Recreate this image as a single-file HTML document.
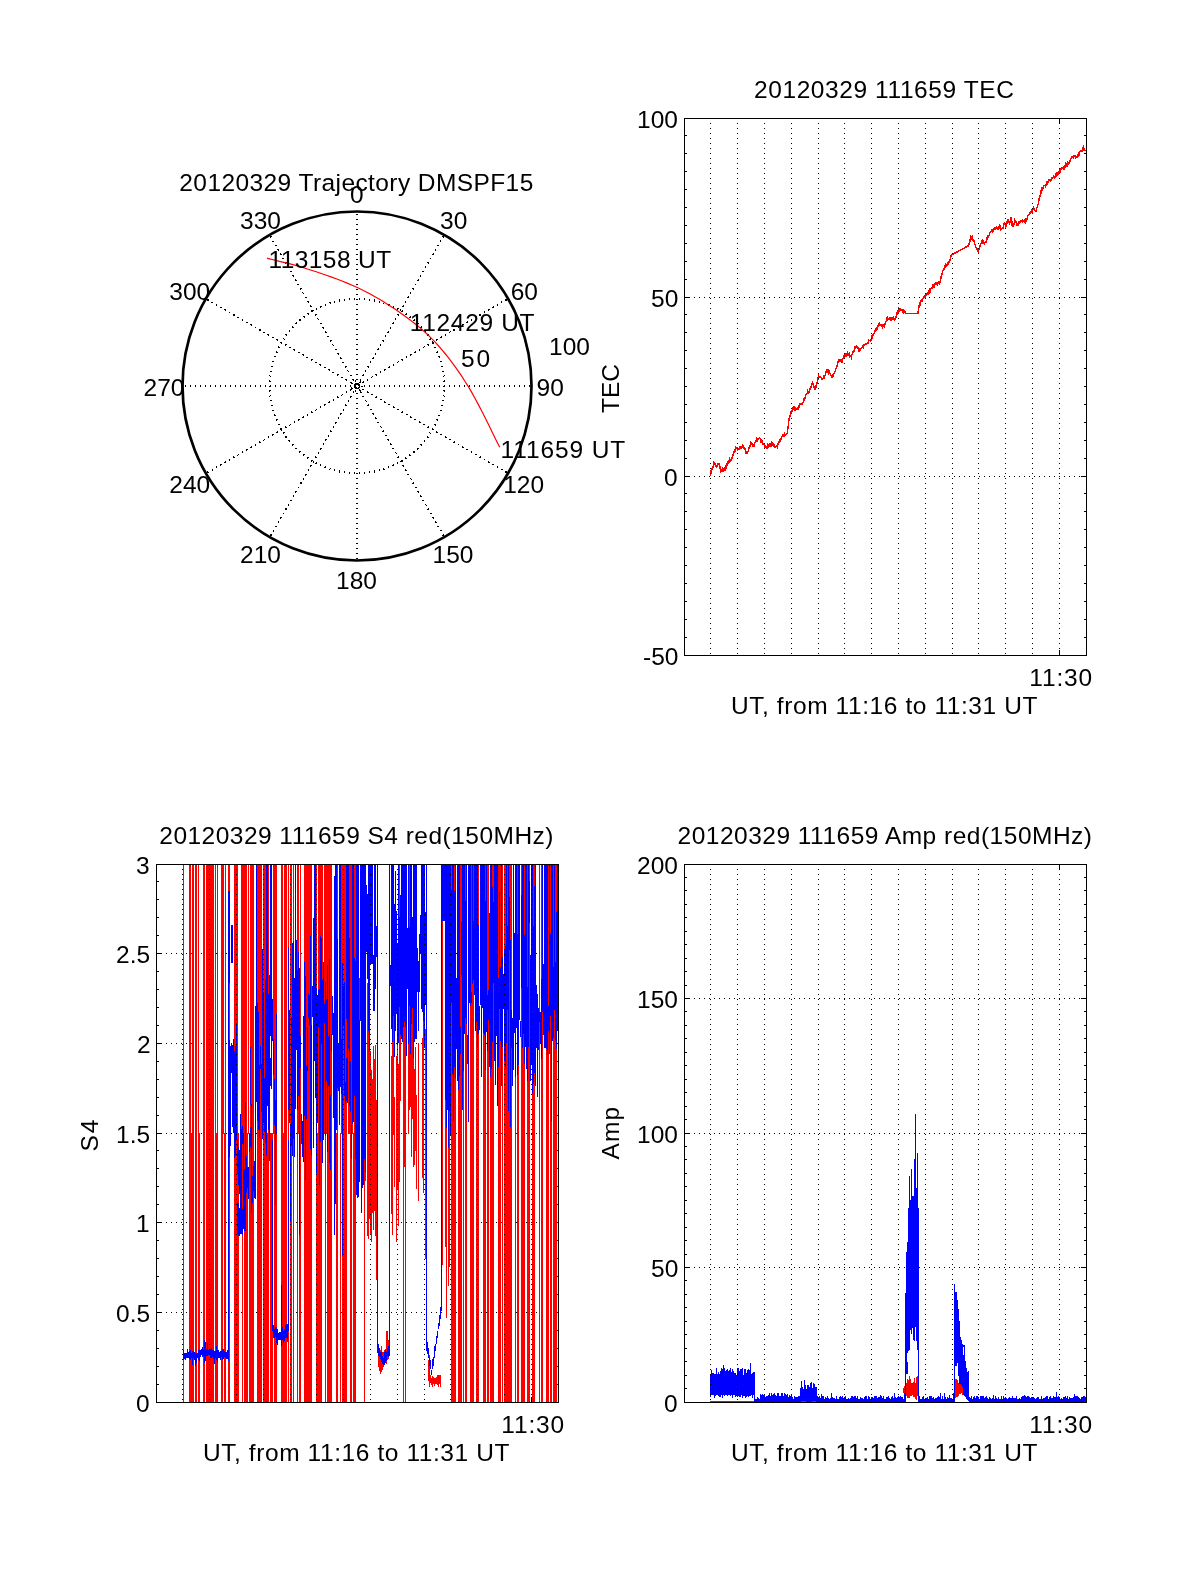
<!DOCTYPE html>
<html><head><meta charset="utf-8"><style>html,body{margin:0;padding:0;background:#fff;overflow:hidden}svg{display:block;will-change:transform}</style></head><body>
<svg width="1200" height="1575" viewBox="0 0 1200 1575" shape-rendering="crispEdges" font-family="Liberation Sans, sans-serif">
<rect width="1200" height="1575" fill="#fff"/>
<g shape-rendering="auto">
<circle cx="357.0" cy="386.0" r="174.5" fill="none" stroke="#000" stroke-width="2.7"/>
</g>
<path fill="#000" d="M489 462h1v1h-1zM358 387h1v1h-1zM325 439h1v1h-1zM370 361h1v1h-1zM208 299h1v1h-1zM379 302h1v1h-1zM325 331h1v1h-1zM270 395h1v1h-1zM375 417h1v1h-1zM393 322h1v1h-1zM378 422h1v1h-1zM330 302h1v1h-1zM356 403h1v1h-1zM305 474h1v1h-1zM292 275h1v1h-1zM295 280h1v1h-1zM394 407h1v1h-1zM339 471h1v1h-1zM440 410h1v1h-1zM229 312h1v1h-1zM283 432h1v1h-1zM286 437h1v1h-1zM238 317h1v1h-1zM437 526h1v1h-1zM369 471h1v1h-1zM430 338h1v1h-1zM444 385h1v1h-1zM476 454h1v1h-1zM345 379h1v1h-1zM346 380h1v1h-1zM524 386h1v1h-1zM356 393h1v1h-1zM402 360h1v1h-1zM368 404h1v1h-1zM474 385h1v1h-1zM371 409h1v1h-1zM356 249h1v1h-1zM408 296h1v1h-1zM320 448h1v1h-1zM338 353h1v1h-1zM384 469h1v1h-1zM504 385h1v1h-1zM388 439h1v1h-1zM445 335h1v1h-1zM286 427h1v1h-1zM259 330h1v1h-1zM305 297h1v1h-1zM505 471h1v1h-1zM444 375h1v1h-1zM276 419h1v1h-1zM388 331h1v1h-1zM233 457h1v1h-1zM279 424h1v1h-1zM300 483h1v1h-1zM375 397h1v1h-1zM359 389h1v1h-1zM225 309h1v1h-1zM251 447h1v1h-1zM272 241h1v1h-1zM410 354h1v1h-1zM356 383h1v1h-1zM329 402h1v1h-1zM356 239h1v1h-1zM333 372h1v1h-1zM434 424h1v1h-1zM273 241h1v1h-1zM323 327h1v1h-1zM375 374h1v1h-1zM506 299h1v1h-1zM216 466h1v1h-1zM449 439h1v1h-1zM442 400h1v1h-1zM380 345h1v1h-1zM290 271h1v1h-1zM294 421h1v1h-1zM335 422h1v1h-1zM293 276h1v1h-1zM245 385h1v1h-1zM471 319h1v1h-1zM374 386h1v1h-1zM296 323h1v1h-1zM259 441h1v1h-1zM325 386h1v1h-1zM403 305h1v1h-1zM275 385h1v1h-1zM320 307h1v1h-1zM493 464h1v1h-1zM404 386h1v1h-1zM315 457h1v1h-1zM288 440h1v1h-1zM362 389h1v1h-1zM356 229h1v1h-1zM428 334h1v1h-1zM402 461h1v1h-1zM437 339h1v1h-1zM355 386h1v1h-1zM489 386h1v1h-1zM305 385h1v1h-1zM439 385h1v1h-1zM289 440h1v1h-1zM316 314h1v1h-1zM479 457h1v1h-1zM338 418h1v1h-1zM383 340h1v1h-1zM329 369h1v1h-1zM295 492h1v1h-1zM303 316h1v1h-1zM283 258h1v1h-1zM445 436h1v1h-1zM284 339h1v1h-1zM304 317h1v1h-1zM336 349h1v1h-1zM271 405h1v1h-1zM357 408h1v1h-1zM409 455h1v1h-1zM377 422h1v1h-1zM356 448h1v1h-1zM356 219h1v1h-1zM268 335h1v1h-1zM410 455h1v1h-1zM242 319h1v1h-1zM375 354h1v1h-1zM330 468h1v1h-1zM350 382h1v1h-1zM424 331h1v1h-1zM442 236h1v1h-1zM351 383h1v1h-1zM311 310h1v1h-1zM393 465h1v1h-1zM285 437h1v1h-1zM466 449h1v1h-1zM379 301h1v1h-1zM398 314h1v1h-1zM283 513h1v1h-1zM310 466h1v1h-1zM357 398h1v1h-1zM417 449h1v1h-1zM205 386h1v1h-1zM357 254h1v1h-1zM356 438h1v1h-1zM270 371h1v1h-1zM296 280h1v1h-1zM356 294h1v1h-1zM333 427h1v1h-1zM419 350h1v1h-1zM290 385h1v1h-1zM260 442h1v1h-1zM264 332h1v1h-1zM369 385h1v1h-1zM207 472h1v1h-1zM441 410h1v1h-1zM387 439h1v1h-1zM390 444h1v1h-1zM384 370h1v1h-1zM440 530h1v1h-1zM320 385h1v1h-1zM361 386h1v1h-1zM462 325h1v1h-1zM346 379h1v1h-1zM413 289h1v1h-1zM357 388h1v1h-1zM303 417h1v1h-1zM524 385h1v1h-1zM407 474h1v1h-1zM480 315h1v1h-1zM350 385h1v1h-1zM357 244h1v1h-1zM356 428h1v1h-1zM462 446h1v1h-1zM454 442h1v1h-1zM269 396h1v1h-1zM356 284h1v1h-1zM427 344h1v1h-1zM268 436h1v1h-1zM321 448h1v1h-1zM346 392h1v1h-1zM445 334h1v1h-1zM348 401h1v1h-1zM233 456h1v1h-1zM300 482h1v1h-1zM433 517h1v1h-1zM345 404h1v1h-1zM311 411h1v1h-1zM301 483h1v1h-1zM488 309h1v1h-1zM190 386h1v1h-1zM357 234h1v1h-1zM411 354h1v1h-1zM356 418h1v1h-1zM329 401h1v1h-1zM400 461h1v1h-1zM269 386h1v1h-1zM344 300h1v1h-1zM356 274h1v1h-1zM427 334h1v1h-1zM394 386h1v1h-1zM220 386h1v1h-1zM367 405h1v1h-1zM273 361h1v1h-1zM380 344h1v1h-1zM425 266h1v1h-1zM450 439h1v1h-1zM443 400h1v1h-1zM374 300h1v1h-1zM319 364h1v1h-1zM372 376h1v1h-1zM418 492h1v1h-1zM424 386h1v1h-1zM250 386h1v1h-1zM272 410h1v1h-1zM335 349h1v1h-1zM334 470h1v1h-1zM454 386h1v1h-1zM320 306h1v1h-1zM357 453h1v1h-1zM357 224h1v1h-1zM356 408h1v1h-1zM356 493h1v1h-1zM316 457h1v1h-1zM363 389h1v1h-1zM356 264h1v1h-1zM489 385h1v1h-1zM443 534h1v1h-1zM233 315h1v1h-1zM471 452h1v1h-1zM443 390h1v1h-1zM295 491h1v1h-1zM289 331h1v1h-1zM286 262h1v1h-1zM304 316h1v1h-1zM437 351h1v1h-1zM392 465h1v1h-1zM307 357h1v1h-1zM357 443h1v1h-1zM357 299h1v1h-1zM356 483h1v1h-1zM356 254h1v1h-1zM381 427h1v1h-1zM375 353h1v1h-1zM420 275h1v1h-1zM431 513h1v1h-1zM356 339h1v1h-1zM348 371h1v1h-1zM276 352h1v1h-1zM398 457h1v1h-1zM351 382h1v1h-1zM425 331h1v1h-1zM436 340h1v1h-1zM443 236h1v1h-1zM220 307h1v1h-1zM285 436h1v1h-1zM277 432h1v1h-1zM355 388h1v1h-1zM315 315h1v1h-1zM467 449h1v1h-1zM310 465h1v1h-1zM417 448h1v1h-1zM389 386h1v1h-1zM357 433h1v1h-1zM220 464h1v1h-1zM479 315h1v1h-1zM397 362h1v1h-1zM357 289h1v1h-1zM356 473h1v1h-1zM414 451h1v1h-1zM320 407h1v1h-1zM378 348h1v1h-1zM497 305h1v1h-1zM356 329h1v1h-1zM469 386h1v1h-1zM419 385h1v1h-1zM340 357h1v1h-1zM279 347h1v1h-1zM390 443h1v1h-1zM379 470h1v1h-1zM499 386h1v1h-1zM285 426h1v1h-1zM391 444h1v1h-1zM329 469h1v1h-1zM449 385h1v1h-1zM441 530h1v1h-1zM462 324h1v1h-1zM307 301h1v1h-1zM281 428h1v1h-1zM357 423h1v1h-1zM358 388h1v1h-1zM295 448h1v1h-1zM370 362h1v1h-1zM216 304h1v1h-1zM208 300h1v1h-1zM421 444h1v1h-1zM408 474h1v1h-1zM357 279h1v1h-1zM356 463h1v1h-1zM324 367h1v1h-1zM325 332h1v1h-1zM505 299h1v1h-1zM356 319h1v1h-1zM329 302h1v1h-1zM346 391h1v1h-1zM438 245h1v1h-1zM330 303h1v1h-1zM440 434h1v1h-1zM305 475h1v1h-1zM278 521h1v1h-1zM350 397h1v1h-1zM383 430h1v1h-1zM428 437h1v1h-1zM389 366h1v1h-1zM301 482h1v1h-1zM240 386h1v1h-1zM190 385h1v1h-1zM489 309h1v1h-1zM325 466h1v1h-1zM357 498h1v1h-1zM357 269h1v1h-1zM356 453h1v1h-1zM369 472h1v1h-1zM344 299h1v1h-1zM430 339h1v1h-1zM484 459h1v1h-1zM401 461h1v1h-1zM270 386h1v1h-1zM317 318h1v1h-1zM356 538h1v1h-1zM356 309h1v1h-1zM274 356h1v1h-1zM220 385h1v1h-1zM354 385h1v1h-1zM397 463h1v1h-1zM318 319h1v1h-1zM368 405h1v1h-1zM374 299h1v1h-1zM300 386h1v1h-1zM320 364h1v1h-1zM250 385h1v1h-1zM438 356h1v1h-1zM384 385h1v1h-1zM365 371h1v1h-1zM338 354h1v1h-1zM285 262h1v1h-1zM283 338h1v1h-1zM428 427h1v1h-1zM441 366h1v1h-1zM414 385h1v1h-1zM321 306h1v1h-1zM357 488h1v1h-1zM269 375h1v1h-1zM276 420h1v1h-1zM388 332h1v1h-1zM302 292h1v1h-1zM433 254h1v1h-1zM270 376h1v1h-1zM357 344h1v1h-1zM356 528h1v1h-1zM356 299h1v1h-1zM273 530h1v1h-1zM233 314h1v1h-1zM229 460h1v1h-1zM410 355h1v1h-1zM356 384h1v1h-1zM293 444h1v1h-1zM397 309h1v1h-1zM289 330h1v1h-1zM341 377h1v1h-1zM360 390h1v1h-1zM296 491h1v1h-1zM506 300h1v1h-1zM453 330h1v1h-1zM371 377h1v1h-1zM388 466h1v1h-1zM294 422h1v1h-1zM354 473h1v1h-1zM331 340h1v1h-1zM357 478h1v1h-1zM449 332h1v1h-1zM357 334h1v1h-1zM356 518h1v1h-1zM259 442h1v1h-1zM298 284h1v1h-1zM356 374h1v1h-1zM414 352h1v1h-1zM337 397h1v1h-1zM255 444h1v1h-1zM360 380h1v1h-1zM442 535h1v1h-1zM355 387h1v1h-1zM300 451h1v1h-1zM221 307h1v1h-1zM400 309h1v1h-1zM439 386h1v1h-1zM289 441h1v1h-1zM433 342h1v1h-1zM311 465h1v1h-1zM337 374h1v1h-1zM383 341h1v1h-1zM356 387h1v1h-1zM329 370h1v1h-1zM357 468h1v1h-1zM479 314h1v1h-1zM221 464h1v1h-1zM436 352h1v1h-1zM320 406h1v1h-1zM272 366h1v1h-1zM445 437h1v1h-1zM519 386h1v1h-1zM357 324h1v1h-1zM356 508h1v1h-1zM469 385h1v1h-1zM398 361h1v1h-1zM356 364h1v1h-1zM300 320h1v1h-1zM291 500h1v1h-1zM392 323h1v1h-1zM427 509h1v1h-1zM379 469h1v1h-1zM499 385h1v1h-1zM363 381h1v1h-1zM308 301h1v1h-1zM463 324h1v1h-1zM414 319h1v1h-1zM296 448h1v1h-1zM311 311h1v1h-1zM307 457h1v1h-1zM275 245h1v1h-1zM357 543h1v1h-1zM357 314h1v1h-1zM398 315h1v1h-1zM356 498h1v1h-1zM402 465h1v1h-1zM355 390h1v1h-1zM429 339h1v1h-1zM307 313h1v1h-1zM325 367h1v1h-1zM356 354h1v1h-1zM308 314h1v1h-1zM350 396h1v1h-1zM441 434h1v1h-1zM420 496h1v1h-1zM306 474h1v1h-1zM290 386h1v1h-1zM442 371h1v1h-1zM240 385h1v1h-1zM369 386h1v1h-1zM274 414h1v1h-1zM401 460h1v1h-1zM320 386h1v1h-1zM357 533h1v1h-1zM270 385h1v1h-1zM286 509h1v1h-1zM387 332h1v1h-1zM354 384h1v1h-1zM397 462h1v1h-1zM356 344h1v1h-1zM402 311h1v1h-1zM275 356h1v1h-1zM292 445h1v1h-1zM303 454h1v1h-1zM350 386h1v1h-1zM484 386h1v1h-1zM462 447h1v1h-1zM300 385h1v1h-1zM434 385h1v1h-1zM312 359h1v1h-1zM288 267h1v1h-1zM246 450h1v1h-1zM439 356h1v1h-1zM365 370h1v1h-1zM410 292h1v1h-1zM268 437h1v1h-1zM428 426h1v1h-1zM514 386h1v1h-1zM423 347h1v1h-1zM464 385h1v1h-1zM298 352h1v1h-1zM433 253h1v1h-1zM357 523h1v1h-1zM318 452h1v1h-1zM388 367h1v1h-1zM433 518h1v1h-1zM345 405h1v1h-1zM306 297h1v1h-1zM311 412h1v1h-1zM357 379h1v1h-1zM229 459h1v1h-1zM488 310h1v1h-1zM324 467h1v1h-1zM397 308h1v1h-1zM307 414h1v1h-1zM276 432h1v1h-1zM342 377h1v1h-1zM427 335h1v1h-1zM211 302h1v1h-1zM354 387h1v1h-1zM272 434h1v1h-1zM453 329h1v1h-1zM458 444h1v1h-1zM425 267h1v1h-1zM354 472h1v1h-1zM374 301h1v1h-1zM357 513h1v1h-1zM357 369h1v1h-1zM356 553h1v1h-1zM405 302h1v1h-1zM337 396h1v1h-1zM360 379h1v1h-1zM285 385h1v1h-1zM278 346h1v1h-1zM415 351h1v1h-1zM364 385h1v1h-1zM443 535h1v1h-1zM320 464h1v1h-1zM280 428h1v1h-1zM312 460h1v1h-1zM315 385h1v1h-1zM428 262h1v1h-1zM313 461h1v1h-1zM380 371h1v1h-1zM340 414h1v1h-1zM360 392h1v1h-1zM207 299h1v1h-1zM352 388h1v1h-1zM519 385h1v1h-1zM410 478h1v1h-1zM444 391h1v1h-1zM437 352h1v1h-1zM345 385h1v1h-1zM446 437h1v1h-1zM357 359h1v1h-1zM411 479h1v1h-1zM356 543h1v1h-1zM315 362h1v1h-1zM476 316h1v1h-1zM327 336h1v1h-1zM300 319h1v1h-1zM420 276h1v1h-1zM397 409h1v1h-1zM359 382h1v1h-1zM443 381h1v1h-1zM427 436h1v1h-1zM443 237h1v1h-1zM360 382h1v1h-1zM308 457h1v1h-1zM328 435h1v1h-1zM276 245h1v1h-1zM185 386h1v1h-1zM403 465h1v1h-1zM308 313h1v1h-1zM364 473h1v1h-1zM339 300h1v1h-1zM220 465h1v1h-1zM433 429h1v1h-1zM351 396h1v1h-1zM215 386h1v1h-1zM370 409h1v1h-1zM414 452h1v1h-1zM420 495h1v1h-1zM378 349h1v1h-1zM311 359h1v1h-1zM423 500h1v1h-1zM303 355h1v1h-1zM423 271h1v1h-1zM369 300h1v1h-1zM419 386h1v1h-1zM337 353h1v1h-1zM443 371h1v1h-1zM340 358h1v1h-1zM419 422h1v1h-1zM263 440h1v1h-1zM362 382h1v1h-1zM393 406h1v1h-1zM354 298h1v1h-1zM285 427h1v1h-1zM449 386h1v1h-1zM286 508h1v1h-1zM440 337h1v1h-1zM278 424h1v1h-1zM281 429h1v1h-1zM402 310h1v1h-1zM359 385h1v1h-1zM292 444h1v1h-1zM484 385h1v1h-1zM216 305h1v1h-1zM421 445h1v1h-1zM304 454h1v1h-1zM315 463h1v1h-1zM463 447h1v1h-1zM328 402h1v1h-1zM246 449h1v1h-1zM332 372h1v1h-1zM505 300h1v1h-1zM367 366h1v1h-1zM514 385h1v1h-1zM413 482h1v1h-1zM324 404h1v1h-1zM416 487h1v1h-1zM278 522h1v1h-1zM323 444h1v1h-1zM330 340h1v1h-1zM414 419h1v1h-1zM333 345h1v1h-1zM380 426h1v1h-1zM299 352h1v1h-1zM383 431h1v1h-1zM212 469h1v1h-1zM357 558h1v1h-1zM297 284h1v1h-1zM389 367h1v1h-1zM300 289h1v1h-1zM346 405h1v1h-1zM347 370h1v1h-1zM350 375h1v1h-1zM325 467h1v1h-1zM409 317h1v1h-1zM292 326h1v1h-1zM436 419h1v1h-1zM354 386h1v1h-1zM212 302h1v1h-1zM437 420h1v1h-1zM432 341h1v1h-1zM281 517h1v1h-1zM382 340h1v1h-1zM328 369h1v1h-1zM359 473h1v1h-1zM320 365h1v1h-1zM384 386h1v1h-1zM450 331h1v1h-1zM270 400h1v1h-1zM285 263h1v1h-1zM376 418h1v1h-1zM436 432h1v1h-1zM286 344h1v1h-1zM405 301h1v1h-1zM335 385h1v1h-1zM414 386h1v1h-1zM273 410h1v1h-1zM299 319h1v1h-1zM343 362h1v1h-1zM402 411h1v1h-1zM393 448h1v1h-1zM493 306h1v1h-1zM273 531h1v1h-1zM405 458h1v1h-1zM374 470h1v1h-1zM494 386h1v1h-1zM405 314h1v1h-1zM310 305h1v1h-1zM340 413h1v1h-1zM360 391h1v1h-1zM385 335h1v1h-1zM444 390h1v1h-1zM361 392h1v1h-1zM277 249h1v1h-1zM286 334h1v1h-1zM278 250h1v1h-1zM357 214h1v1h-1zM356 398h1v1h-1zM316 362h1v1h-1zM388 467h1v1h-1zM328 336h1v1h-1zM423 424h1v1h-1zM432 429h1v1h-1zM237 455h1v1h-1zM377 349h1v1h-1zM267 334h1v1h-1zM255 445h1v1h-1zM360 381h1v1h-1zM444 380h1v1h-1zM235 386h1v1h-1zM333 400h1v1h-1zM293 327h1v1h-1zM506 471h1v1h-1zM400 310h1v1h-1zM185 385h1v1h-1zM401 311h1v1h-1zM285 508h1v1h-1zM393 307h1v1h-1zM433 343h1v1h-1zM364 472h1v1h-1zM339 299h1v1h-1zM337 375h1v1h-1zM356 388h1v1h-1zM302 417h1v1h-1zM265 386h1v1h-1zM215 385h1v1h-1zM356 244h1v1h-1zM298 419h1v1h-1zM453 442h1v1h-1zM303 354h1v1h-1zM308 469h1v1h-1zM369 299h1v1h-1zM475 317h1v1h-1zM287 266h1v1h-1zM295 386h1v1h-1zM442 405h1v1h-1zM379 385h1v1h-1zM419 421h1v1h-1zM341 358h1v1h-1zM420 422h1v1h-1zM330 385h1v1h-1zM289 347h1v1h-1zM281 343h1v1h-1zM363 382h1v1h-1zM288 504h1v1h-1zM409 385h1v1h-1zM255 327h1v1h-1zM308 302h1v1h-1zM441 337h1v1h-1zM414 320h1v1h-1zM359 384h1v1h-1zM432 517h1v1h-1zM435 522h1v1h-1zM415 284h1v1h-1zM307 458h1v1h-1zM356 234h1v1h-1zM316 463h1v1h-1zM355 391h1v1h-1zM389 304h1v1h-1zM247 449h1v1h-1zM406 356h1v1h-1zM368 366h1v1h-1zM280 253h1v1h-1zM325 404h1v1h-1zM424 346h1v1h-1zM323 443h1v1h-1zM395 319h1v1h-1zM280 518h1v1h-1zM349 473h1v1h-1zM407 414h1v1h-1zM300 288h1v1h-1zM357 413h1v1h-1zM274 415h1v1h-1zM200 386h1v1h-1zM467 321h1v1h-1zM303 478h1v1h-1zM351 375h1v1h-1zM356 224h1v1h-1zM355 381h1v1h-1zM421 326h1v1h-1zM438 415h1v1h-1zM230 386h1v1h-1zM410 316h1v1h-1zM437 419h1v1h-1zM316 309h1v1h-1zM326 439h1v1h-1zM303 455h1v1h-1zM359 472h1v1h-1zM434 386h1v1h-1zM351 388h1v1h-1zM412 483h1v1h-1zM439 357h1v1h-1zM410 293h1v1h-1zM436 431h1v1h-1zM271 400h1v1h-1zM357 403h1v1h-1zM464 386h1v1h-1zM437 432h1v1h-1zM306 357h1v1h-1zM364 298h1v1h-1zM357 259h1v1h-1zM356 443h1v1h-1zM356 214h1v1h-1zM272 337h1v1h-1zM318 453h1v1h-1zM405 457h1v1h-1zM390 328h1v1h-1zM388 404h1v1h-1zM494 385h1v1h-1zM284 432h1v1h-1zM307 415h1v1h-1zM417 323h1v1h-1zM341 413h1v1h-1zM406 313h1v1h-1zM298 487h1v1h-1zM299 452h1v1h-1zM272 435h1v1h-1zM405 470h1v1h-1zM357 393h1v1h-1zM278 249h1v1h-1zM281 254h1v1h-1zM350 390h1v1h-1zM357 249h1v1h-1zM356 433h1v1h-1zM432 428h1v1h-1zM424 424h1v1h-1zM356 289h1v1h-1zM422 500h1v1h-1zM422 271h1v1h-1zM293 349h1v1h-1zM413 451h1v1h-1zM302 354h1v1h-1zM294 350h1v1h-1zM285 386h1v1h-1zM492 307h1v1h-1zM278 347h1v1h-1zM410 417h1v1h-1zM234 457h1v1h-1zM235 385h1v1h-1zM260 329h1v1h-1zM415 352h1v1h-1zM333 399h1v1h-1zM364 386h1v1h-1zM330 430h1v1h-1zM376 397h1v1h-1zM320 465h1v1h-1zM280 429h1v1h-1zM393 306h1v1h-1zM357 383h1v1h-1zM315 386h1v1h-1zM428 263h1v1h-1zM313 462h1v1h-1zM265 385h1v1h-1zM380 372h1v1h-1zM399 385h1v1h-1zM271 236h1v1h-1zM357 239h1v1h-1zM356 423h1v1h-1zM207 300h1v1h-1zM420 444h1v1h-1zM269 391h1v1h-1zM458 327h1v1h-1zM376 374h1v1h-1zM356 279h1v1h-1zM299 419h1v1h-1zM345 386h1v1h-1zM479 386h1v1h-1zM295 385h1v1h-1zM429 385h1v1h-1zM291 271h1v1h-1zM336 422h1v1h-1zM437 245h1v1h-1zM281 342h1v1h-1zM509 386h1v1h-1zM359 298h1v1h-1zM459 385h1v1h-1zM325 305h1v1h-1zM290 347h1v1h-1zM441 336h1v1h-1zM385 435h1v1h-1zM435 521h1v1h-1zM427 437h1v1h-1zM372 358h1v1h-1zM357 458h1v1h-1zM357 229h1v1h-1zM436 522h1v1h-1zM417 280h1v1h-1zM356 413h1v1h-1zM352 379h1v1h-1zM269 381h1v1h-1zM316 462h1v1h-1zM356 269h1v1h-1zM328 436h1v1h-1zM353 380h1v1h-1zM373 358h1v1h-1zM403 466h1v1h-1zM484 311h1v1h-1zM339 301h1v1h-1zM443 395h1v1h-1zM395 318h1v1h-1zM280 517h1v1h-1zM440 240h1v1h-1zM311 360h1v1h-1zM349 472h1v1h-1zM440 361h1v1h-1zM272 405h1v1h-1zM430 433h1v1h-1zM427 427h1v1h-1zM200 385h1v1h-1zM301 288h1v1h-1zM357 448h1v1h-1zM277 339h1v1h-1zM357 219h1v1h-1zM428 508h1v1h-1zM275 415h1v1h-1zM393 407h1v1h-1zM354 299h1v1h-1zM357 304h1v1h-1zM356 488h1v1h-1zM356 259h1v1h-1zM355 380h1v1h-1zM280 386h1v1h-1zM385 402h1v1h-1zM345 366h1v1h-1zM331 431h1v1h-1zM432 254h1v1h-1zM230 385h1v1h-1zM395 452h1v1h-1zM281 430h1v1h-1zM316 308h1v1h-1zM359 386h1v1h-1zM439 415h1v1h-1zM396 453h1v1h-1zM312 310h1v1h-1zM277 352h1v1h-1zM351 387h1v1h-1zM362 396h1v1h-1zM388 305h1v1h-1zM224 462h1v1h-1zM310 385h1v1h-1zM413 483h1v1h-1zM324 405h1v1h-1zM357 438h1v1h-1zM330 341h1v1h-1zM340 385h1v1h-1zM357 294h1v1h-1zM356 478h1v1h-1zM363 374h1v1h-1zM212 470h1v1h-1zM383 468h1v1h-1zM390 327h1v1h-1zM275 526h1v1h-1zM356 334h1v1h-1zM435 249h1v1h-1zM367 380h1v1h-1zM466 322h1v1h-1zM208 472h1v1h-1zM389 404h1v1h-1zM362 386h1v1h-1zM381 399h1v1h-1zM385 369h1v1h-1zM292 327h1v1h-1zM398 308h1v1h-1zM497 467h1v1h-1zM418 323h1v1h-1zM343 409h1v1h-1zM355 383h1v1h-1zM299 451h1v1h-1zM405 469h1v1h-1zM311 461h1v1h-1zM357 428h1v1h-1zM432 342h1v1h-1zM350 389h1v1h-1zM384 302h1v1h-1zM435 347h1v1h-1zM322 327h1v1h-1zM334 301h1v1h-1zM273 434h1v1h-1zM372 413h1v1h-1zM357 284h1v1h-1zM356 468h1v1h-1zM428 344h1v1h-1zM271 366h1v1h-1zM356 324h1v1h-1zM294 349h1v1h-1zM373 413h1v1h-1zM426 505h1v1h-1zM210 386h1v1h-1zM238 454h1v1h-1zM335 386h1v1h-1zM393 364h1v1h-1zM299 320h1v1h-1zM344 471h1v1h-1zM290 500h1v1h-1zM410 416h1v1h-1zM316 409h1v1h-1zM402 412h1v1h-1zM493 307h1v1h-1zM411 417h1v1h-1zM376 396h1v1h-1zM374 471h1v1h-1zM349 298h1v1h-1zM246 322h1v1h-1zM357 418h1v1h-1zM358 383h1v1h-1zM310 306h1v1h-1zM385 336h1v1h-1zM270 535h1v1h-1zM357 503h1v1h-1zM357 274h1v1h-1zM269 390h1v1h-1zM356 458h1v1h-1zM458 326h1v1h-1zM529 386h1v1h-1zM479 385h1v1h-1zM356 314h1v1h-1zM286 335h1v1h-1zM293 495h1v1h-1zM509 385h1v1h-1zM501 301h1v1h-1zM325 304h1v1h-1zM386 435h1v1h-1zM398 409h1v1h-1zM357 493h1v1h-1zM357 264h1v1h-1zM269 380h1v1h-1zM303 293h1v1h-1zM418 280h1v1h-1zM444 381h1v1h-1zM506 472h1v1h-1zM353 379h1v1h-1zM373 357h1v1h-1zM270 381h1v1h-1zM357 349h1v1h-1zM356 533h1v1h-1zM356 304h1v1h-1zM234 315h1v1h-1zM480 456h1v1h-1zM285 509h1v1h-1zM270 237h1v1h-1zM320 323h1v1h-1zM397 314h1v1h-1zM298 420h1v1h-1zM435 425h1v1h-1zM308 470h1v1h-1zM353 392h1v1h-1zM441 361h1v1h-1zM379 386h1v1h-1zM357 483h1v1h-1zM330 386h1v1h-1zM295 279h1v1h-1zM341 395h1v1h-1zM280 385h1v1h-1zM357 339h1v1h-1zM356 523h1v1h-1zM288 505h1v1h-1zM263 332h1v1h-1zM409 386h1v1h-1zM339 470h1v1h-1zM346 366h1v1h-1zM356 379h1v1h-1zM502 469h1v1h-1zM286 436h1v1h-1zM388 304h1v1h-1zM313 310h1v1h-1zM363 396h1v1h-1zM225 462h1v1h-1zM406 357h1v1h-1zM412 288h1v1h-1zM368 367h1v1h-1zM280 254h1v1h-1zM402 359h1v1h-1zM357 473h1v1h-1zM357 329h1v1h-1zM356 513h1v1h-1zM415 419h1v1h-1zM367 379h1v1h-1zM290 424h1v1h-1zM276 526h1v1h-1zM356 369h1v1h-1zM467 322h1v1h-1zM285 345h1v1h-1zM303 479h1v1h-1zM250 324h1v1h-1zM259 329h1v1h-1zM251 325h1v1h-1zM497 466h1v1h-1zM421 327h1v1h-1zM410 317h1v1h-1zM367 392h1v1h-1zM251 446h1v1h-1zM311 460h1v1h-1zM427 262h1v1h-1zM357 463h1v1h-1zM351 389h1v1h-1zM326 332h1v1h-1zM272 361h1v1h-1zM357 548h1v1h-1zM357 319h1v1h-1zM356 503h1v1h-1zM260 386h1v1h-1zM210 385h1v1h-1zM356 359h1v1h-1zM417 491h1v1h-1zM364 299h1v1h-1zM362 375h1v1h-1zM407 297h1v1h-1zM293 275h1v1h-1zM280 342h1v1h-1zM374 385h1v1h-1zM296 322h1v1h-1zM325 385h1v1h-1zM430 258h1v1h-1zM247 322h1v1h-1zM406 458h1v1h-1zM404 385h1v1h-1zM270 534h1v1h-1zM311 306h1v1h-1zM315 456h1v1h-1zM529 385h1v1h-1zM271 535h1v1h-1zM357 538h1v1h-1zM406 314h1v1h-1zM357 309h1v1h-1zM270 390h1v1h-1zM402 460h1v1h-1zM355 385h1v1h-1zM383 303h1v1h-1zM356 349h1v1h-1zM338 417h1v1h-1zM413 452h1v1h-1zM442 366h1v1h-1zM409 454h1v1h-1zM429 432h1v1h-1zM315 410h1v1h-1zM276 339h1v1h-1zM430 513h1v1h-1zM418 279h1v1h-1zM268 334h1v1h-1zM260 330h1v1h-1zM357 528h1v1h-1zM277 419h1v1h-1zM384 402h1v1h-1zM330 431h1v1h-1zM195 386h1v1h-1zM234 314h1v1h-1zM397 457h1v1h-1zM357 384h1v1h-1zM270 236h1v1h-1zM402 306h1v1h-1zM358 385h1v1h-1zM399 386h1v1h-1zM424 330h1v1h-1zM225 386h1v1h-1zM321 323h1v1h-1zM376 375h1v1h-1zM435 424h1v1h-1zM393 464h1v1h-1zM353 391h1v1h-1zM429 386h1v1h-1zM454 330h1v1h-1zM255 386h1v1h-1zM415 487h1v1h-1zM205 385h1v1h-1zM242 452h1v1h-1zM359 299h1v1h-1zM357 518h1v1h-1zM459 386h1v1h-1zM264 439h1v1h-1zM382 431h1v1h-1zM333 426h1v1h-1zM419 349h1v1h-1zM271 371h1v1h-1zM357 374h1v1h-1zM356 558h1v1h-1zM338 397h1v1h-1zM371 394h1v1h-1zM207 471h1v1h-1zM380 399h1v1h-1zM384 369h1v1h-1zM225 461h1v1h-1zM424 441h1v1h-1zM484 312h1v1h-1zM488 462h1v1h-1zM420 327h1v1h-1zM338 374h1v1h-1zM413 288h1v1h-1zM303 416h1v1h-1zM434 347h1v1h-1zM480 314h1v1h-1zM440 241h1v1h-1zM325 440h1v1h-1zM454 441h1v1h-1zM357 508h1v1h-1zM444 396h1v1h-1zM357 364h1v1h-1zM356 548h1v1h-1zM375 418h1v1h-1zM393 323h1v1h-1zM285 344h1v1h-1zM425 504h1v1h-1zM277 340h1v1h-1zM428 509h1v1h-1zM348 400h1v1h-1zM401 412h1v1h-1zM251 324h1v1h-1zM342 362h1v1h-1zM345 367h1v1h-1zM392 448h1v1h-1zM339 472h1v1h-1zM367 391h1v1h-1zM359 387h1v1h-1zM443 386h1v1h-1zM368 392h1v1h-1zM312 311h1v1h-1zM237 317h1v1h-1zM283 433h1v1h-1zM475 454h1v1h-1zM352 383h1v1h-1zM310 386h1v1h-1zM444 386h1v1h-1zM260 385h1v1h-1zM394 385h1v1h-1zM357 354h1v1h-1zM285 334h1v1h-1zM340 386h1v1h-1zM474 386h1v1h-1zM418 491h1v1h-1zM424 385h1v1h-1zM363 375h1v1h-1zM421 496h1v1h-1zM408 297h1v1h-1zM383 469h1v1h-1zM289 425h1v1h-1zM435 250h1v1h-1zM320 449h1v1h-1zM273 337h1v1h-1zM504 386h1v1h-1zM443 376h1v1h-1zM388 440h1v1h-1zM334 469h1v1h-1zM454 385h1v1h-1zM438 526h1v1h-1zM271 534h1v1h-1zM505 472h1v1h-1zM343 410h1v1h-1zM355 384h1v1h-1zM224 309h1v1h-1zM250 447h1v1h-1zM359 390h1v1h-1zM225 310h1v1h-1zM471 451h1v1h-1zM432 343h1v1h-1zM334 302h1v1h-1zM406 470h1v1h-1zM428 345h1v1h-1zM323 328h1v1h-1zM373 414h1v1h-1zM216 467h1v1h-1zM441 405h1v1h-1zM393 365h1v1h-1zM344 472h1v1h-1zM335 423h1v1h-1zM245 386h1v1h-1zM471 320h1v1h-1zM384 401h1v1h-1zM295 323h1v1h-1zM195 385h1v1h-1zM312 412h1v1h-1zM374 472h1v1h-1zM349 299h1v1h-1zM492 464h1v1h-1zM413 320h1v1h-1zM358 384h1v1h-1zM403 306h1v1h-1zM275 386h1v1h-1zM276 351h1v1h-1zM501 469h1v1h-1zM225 385h1v1h-1zM398 456h1v1h-1zM436 339h1v1h-1zM428 335h1v1h-1zM277 431h1v1h-1zM315 314h1v1h-1zM454 329h1v1h-1zM305 386h1v1h-1zM365 400h1v1h-1zM255 385h1v1h-1zM389 385h1v1h-1zM401 359h1v1h-1zM366 401h1v1h-1zM418 448h1v1h-1zM242 451h1v1h-1zM282 258h1v1h-1zM293 496h1v1h-1zM501 302h1v1h-1zM332 344h1v1h-1zM342 394h1v1h-1zM357 553h1v1h-1zM497 304h1v1h-1zM406 414h1v1h-1zM372 394h1v1h-1zM424 440h1v1h-1zM242 320h1v1h-1zM488 461h1v1h-1zM480 457h1v1h-1z"/>
<g shape-rendering="auto">
<polyline fill="none" stroke="#f00" stroke-width="1.2" points="267.0,258.2 269.3,258.8 272.2,259.5 275.7,260.3 279.5,261.3 283.7,262.3 288.2,263.4 292.8,264.6 297.5,265.9 302.1,267.3 306.7,268.7 311.3,270.2 316.2,271.8 321.2,273.5 326.4,275.3 331.6,277.1 336.8,279.0 342.0,281.0 347.1,283.1 352.1,285.2 356.8,287.3 361.4,289.5 365.8,291.7 370.2,294.0 374.5,296.4 378.7,298.8 382.8,301.3 386.9,303.9 390.9,306.5 394.9,309.1 398.8,311.8 402.6,314.5 406.4,317.2 410.1,319.9 413.7,322.7 417.3,325.5 420.8,328.4 424.3,331.5 427.8,334.7 431.2,338.1 434.7,341.7 438.2,345.5 441.6,349.4 445.0,353.5 448.4,357.7 451.7,362.1 455.1,366.6 458.4,371.3 461.7,376.2 464.9,381.2 468.2,386.4 471.6,392.1 475.1,398.5 478.8,405.4 482.5,412.5 486.0,419.6 489.5,426.5 492.6,433.0 495.4,438.8 497.8,443.6 499.7,447.3"/>
</g>
<text x="179.30" y="191.00" font-size="24.5" textLength="353.99" lengthAdjust="spacing">20120329 Trajectory DMSPF15</text>
<text x="350.00" y="203.00" font-size="24.5">0</text>
<text x="440.00" y="228.86" font-size="24.5">30</text>
<text x="510.64" y="299.50" font-size="24.5">60</text>
<text x="536.50" y="396.00" font-size="24.5">90</text>
<text x="503.14" y="492.50" font-size="24.5">120</text>
<text x="432.50" y="563.14" font-size="24.5">150</text>
<text x="336.00" y="589.00" font-size="24.5">180</text>
<text x="240.00" y="563.14" font-size="24.5">210</text>
<text x="169.36" y="492.50" font-size="24.5">240</text>
<text x="143.50" y="396.00" font-size="24.5">270</text>
<text x="169.36" y="299.50" font-size="24.5">300</text>
<text x="240.00" y="228.86" font-size="24.5">330</text>
<text x="268.60" y="267.50" font-size="24.5" textLength="122.56" lengthAdjust="spacing">113158 UT</text>
<text x="409.80" y="330.50" font-size="24.5" textLength="124.69" lengthAdjust="spacing">112429 UT</text>
<text x="500.60" y="458.00" font-size="24.5" textLength="124.68" lengthAdjust="spacing">111659 UT</text>
<text x="461.10" y="367.30" font-size="24.5" textLength="29.07" lengthAdjust="spacing">50</text>
<text x="549.00" y="355.00" font-size="24.5">100</text>
<text x="618.80" y="413.00" font-size="24.5" transform="rotate(-90 618.80 413.00)">TEC</text>
<line x1="1059.5" y1="118" x2="1059.5" y2="124" stroke="#000" stroke-width="1"/>
<line x1="1059.5" y1="650" x2="1059.5" y2="656" stroke="#000" stroke-width="1"/>
<line x1="684" y1="655.5" x2="690" y2="655.5" stroke="#000" stroke-width="1"/>
<line x1="1081" y1="655.5" x2="1087" y2="655.5" stroke="#000" stroke-width="1"/>
<text x="643.00" y="665.00" font-size="24.5">-50</text>
<line x1="684" y1="637.5" x2="687" y2="637.5" stroke="#000" stroke-width="1"/>
<line x1="1084" y1="637.5" x2="1087" y2="637.5" stroke="#000" stroke-width="1"/>
<line x1="684" y1="619.5" x2="687" y2="619.5" stroke="#000" stroke-width="1"/>
<line x1="1084" y1="619.5" x2="1087" y2="619.5" stroke="#000" stroke-width="1"/>
<line x1="684" y1="601.5" x2="687" y2="601.5" stroke="#000" stroke-width="1"/>
<line x1="1084" y1="601.5" x2="1087" y2="601.5" stroke="#000" stroke-width="1"/>
<line x1="684" y1="583.5" x2="687" y2="583.5" stroke="#000" stroke-width="1"/>
<line x1="1084" y1="583.5" x2="1087" y2="583.5" stroke="#000" stroke-width="1"/>
<line x1="684" y1="565.5" x2="687" y2="565.5" stroke="#000" stroke-width="1"/>
<line x1="1084" y1="565.5" x2="1087" y2="565.5" stroke="#000" stroke-width="1"/>
<line x1="684" y1="547.5" x2="687" y2="547.5" stroke="#000" stroke-width="1"/>
<line x1="1084" y1="547.5" x2="1087" y2="547.5" stroke="#000" stroke-width="1"/>
<line x1="684" y1="529.5" x2="687" y2="529.5" stroke="#000" stroke-width="1"/>
<line x1="1084" y1="529.5" x2="1087" y2="529.5" stroke="#000" stroke-width="1"/>
<line x1="684" y1="511.5" x2="687" y2="511.5" stroke="#000" stroke-width="1"/>
<line x1="1084" y1="511.5" x2="1087" y2="511.5" stroke="#000" stroke-width="1"/>
<line x1="684" y1="493.5" x2="687" y2="493.5" stroke="#000" stroke-width="1"/>
<line x1="1084" y1="493.5" x2="1087" y2="493.5" stroke="#000" stroke-width="1"/>
<line x1="684" y1="476.5" x2="1087" y2="476.5" stroke="#000" stroke-width="1" stroke-dasharray="1 4" stroke-dashoffset="0"/>
<line x1="684" y1="476.5" x2="690" y2="476.5" stroke="#000" stroke-width="1"/>
<line x1="1081" y1="476.5" x2="1087" y2="476.5" stroke="#000" stroke-width="1"/>
<text x="664.00" y="486.00" font-size="24.5">0</text>
<line x1="684" y1="458.5" x2="687" y2="458.5" stroke="#000" stroke-width="1"/>
<line x1="1084" y1="458.5" x2="1087" y2="458.5" stroke="#000" stroke-width="1"/>
<line x1="684" y1="440.5" x2="687" y2="440.5" stroke="#000" stroke-width="1"/>
<line x1="1084" y1="440.5" x2="1087" y2="440.5" stroke="#000" stroke-width="1"/>
<line x1="684" y1="422.5" x2="687" y2="422.5" stroke="#000" stroke-width="1"/>
<line x1="1084" y1="422.5" x2="1087" y2="422.5" stroke="#000" stroke-width="1"/>
<line x1="684" y1="404.5" x2="687" y2="404.5" stroke="#000" stroke-width="1"/>
<line x1="1084" y1="404.5" x2="1087" y2="404.5" stroke="#000" stroke-width="1"/>
<line x1="684" y1="386.5" x2="687" y2="386.5" stroke="#000" stroke-width="1"/>
<line x1="1084" y1="386.5" x2="1087" y2="386.5" stroke="#000" stroke-width="1"/>
<line x1="684" y1="368.5" x2="687" y2="368.5" stroke="#000" stroke-width="1"/>
<line x1="1084" y1="368.5" x2="1087" y2="368.5" stroke="#000" stroke-width="1"/>
<line x1="684" y1="350.5" x2="687" y2="350.5" stroke="#000" stroke-width="1"/>
<line x1="1084" y1="350.5" x2="1087" y2="350.5" stroke="#000" stroke-width="1"/>
<line x1="684" y1="332.5" x2="687" y2="332.5" stroke="#000" stroke-width="1"/>
<line x1="1084" y1="332.5" x2="1087" y2="332.5" stroke="#000" stroke-width="1"/>
<line x1="684" y1="314.5" x2="687" y2="314.5" stroke="#000" stroke-width="1"/>
<line x1="1084" y1="314.5" x2="1087" y2="314.5" stroke="#000" stroke-width="1"/>
<line x1="684" y1="297.5" x2="1087" y2="297.5" stroke="#000" stroke-width="1" stroke-dasharray="1 4" stroke-dashoffset="0"/>
<line x1="684" y1="297.5" x2="690" y2="297.5" stroke="#000" stroke-width="1"/>
<line x1="1081" y1="297.5" x2="1087" y2="297.5" stroke="#000" stroke-width="1"/>
<text x="651.00" y="307.00" font-size="24.5">50</text>
<line x1="684" y1="279.5" x2="687" y2="279.5" stroke="#000" stroke-width="1"/>
<line x1="1084" y1="279.5" x2="1087" y2="279.5" stroke="#000" stroke-width="1"/>
<line x1="684" y1="261.5" x2="687" y2="261.5" stroke="#000" stroke-width="1"/>
<line x1="1084" y1="261.5" x2="1087" y2="261.5" stroke="#000" stroke-width="1"/>
<line x1="684" y1="243.5" x2="687" y2="243.5" stroke="#000" stroke-width="1"/>
<line x1="1084" y1="243.5" x2="1087" y2="243.5" stroke="#000" stroke-width="1"/>
<line x1="684" y1="225.5" x2="687" y2="225.5" stroke="#000" stroke-width="1"/>
<line x1="1084" y1="225.5" x2="1087" y2="225.5" stroke="#000" stroke-width="1"/>
<line x1="684" y1="207.5" x2="687" y2="207.5" stroke="#000" stroke-width="1"/>
<line x1="1084" y1="207.5" x2="1087" y2="207.5" stroke="#000" stroke-width="1"/>
<line x1="684" y1="189.5" x2="687" y2="189.5" stroke="#000" stroke-width="1"/>
<line x1="1084" y1="189.5" x2="1087" y2="189.5" stroke="#000" stroke-width="1"/>
<line x1="684" y1="171.5" x2="687" y2="171.5" stroke="#000" stroke-width="1"/>
<line x1="1084" y1="171.5" x2="1087" y2="171.5" stroke="#000" stroke-width="1"/>
<line x1="684" y1="153.5" x2="687" y2="153.5" stroke="#000" stroke-width="1"/>
<line x1="1084" y1="153.5" x2="1087" y2="153.5" stroke="#000" stroke-width="1"/>
<line x1="684" y1="135.5" x2="687" y2="135.5" stroke="#000" stroke-width="1"/>
<line x1="1084" y1="135.5" x2="1087" y2="135.5" stroke="#000" stroke-width="1"/>
<line x1="684" y1="118.5" x2="690" y2="118.5" stroke="#000" stroke-width="1"/>
<line x1="1081" y1="118.5" x2="1087" y2="118.5" stroke="#000" stroke-width="1"/>
<text x="637.00" y="128.00" font-size="24.5">100</text>
<polyline fill="none" stroke="#f00" stroke-width="1.5" shape-rendering="crispEdges" points="710.4,476.4 711.3,470.1 711.9,469.1 712.4,468.5 713.0,466.8 713.6,466.3 714.1,462.3 714.7,462.6 715.2,465.1 715.7,465.2 716.2,467.0 716.7,465.5 717.2,465.8 717.7,464.2 718.2,464.3 718.7,463.5 719.2,463.6 719.7,466.1 720.2,468.1 720.7,472.0 721.2,471.5 721.7,469.4 722.2,471.4 722.7,469.2 723.2,470.6 723.7,469.0 724.2,468.5 724.7,471.2 725.2,467.6 725.8,466.2 726.4,467.2 726.9,465.4 727.5,462.1 728.0,462.8 728.5,461.1 729.0,461.2 729.5,459.4 730.0,461.4 730.5,460.3 731.0,460.8 731.5,460.3 732.0,458.1 732.5,456.9 733.0,455.0 733.5,453.6 734.0,452.0 734.5,451.4 735.0,451.0 735.5,447.7 736.0,448.6 736.5,447.7 737.1,447.9 737.6,449.8 738.2,449.0 738.7,448.7 739.2,448.8 739.7,449.1 740.2,446.6 740.7,449.2 741.2,445.7 741.7,447.6 742.2,447.5 742.7,444.5 743.2,447.8 743.7,447.4 744.2,449.0 744.7,448.1 745.2,449.1 745.7,450.5 746.2,453.8 746.7,452.3 747.2,452.9 747.8,452.2 748.4,451.1 748.9,447.9 749.5,446.8 750.0,446.1 750.5,446.1 751.0,443.1 751.5,444.3 752.0,443.7 752.6,445.9 753.3,445.2 753.8,446.8 754.4,442.7 754.9,442.2 755.5,441.7 756.0,441.3 756.5,439.4 757.0,441.2 757.5,439.9 758.0,439.0 758.5,439.0 759.0,438.4 759.5,438.0 760.0,438.2 760.5,440.6 761.0,442.2 761.5,440.2 762.0,440.6 762.5,444.2 763.0,443.5 763.5,443.7 764.0,443.9 764.5,445.7 765.1,447.1 765.6,446.5 766.2,447.1 766.7,446.6 767.2,448.8 767.7,445.5 768.2,446.5 768.7,447.1 769.2,444.3 769.7,445.7 770.2,445.9 770.7,444.4 771.2,445.1 771.7,443.0 772.2,444.3 772.7,443.5 773.2,445.9 773.7,444.3 774.3,444.9 774.8,446.8 775.3,446.5 775.8,447.1 776.3,445.5 776.8,445.8 777.3,446.7 777.8,444.8 778.3,443.2 778.8,442.4 779.3,440.5 779.8,440.2 780.3,441.0 780.8,439.9 781.3,437.7 781.8,436.9 782.3,436.0 782.8,434.8 783.3,435.0 783.8,436.3 784.3,436.2 784.8,434.2 785.3,435.1 785.8,434.7 786.3,434.1 786.8,433.6 787.3,433.5 787.8,428.4 788.3,425.7 788.8,420.4 789.3,417.3 789.9,416.7 790.4,415.0 791.0,412.3 791.6,413.0 792.1,410.6 792.7,409.0 793.2,407.1 793.8,408.9 794.3,407.9 794.8,409.2 795.4,408.6 795.9,409.7 796.4,409.2 796.9,409.7 797.5,408.2 798.0,409.2 798.5,408.1 799.0,407.1 799.5,404.2 800.0,404.4 800.5,404.3 801.1,403.5 801.6,404.2 802.2,403.9 802.8,402.3 803.3,402.1 803.8,399.3 804.4,399.9 804.9,398.6 805.5,395.5 806.0,394.6 806.5,394.3 807.1,393.8 807.6,391.6 808.2,393.1 808.8,392.0 809.3,391.8 809.8,389.4 810.4,388.5 810.9,387.4 811.5,385.3 812.0,384.0 812.5,382.8 813.1,384.2 813.6,386.1 814.2,387.8 814.8,387.4 815.3,389.9 815.9,387.7 816.4,383.8 817.0,383.2 817.6,380.4 818.1,377.9 818.7,376.1 819.2,377.0 819.8,376.9 820.4,377.3 820.9,377.1 821.5,378.9 822.0,378.9 822.5,379.3 823.1,378.8 823.6,377.3 824.2,379.0 824.7,375.7 825.2,375.2 825.7,372.9 826.2,371.5 826.7,368.8 827.2,371.7 827.8,370.8 828.3,370.3 828.8,372.8 829.4,371.7 829.9,373.7 830.4,373.7 830.9,375.1 831.5,376.9 832.0,377.0 832.5,375.1 833.1,375.7 833.6,374.5 834.2,372.9 834.7,371.6 835.2,371.1 835.8,369.1 836.4,368.5 836.9,366.6 837.5,363.5 838.0,360.8 838.5,362.5 839.0,359.6 839.5,359.8 840.0,361.2 840.5,361.3 841.0,359.7 841.5,361.2 842.0,362.0 842.5,359.2 843.1,358.3 843.6,356.6 844.2,355.7 844.7,356.8 845.2,354.7 845.7,356.4 846.2,356.1 846.7,354.9 847.3,353.6 847.8,355.8 848.3,354.0 848.8,353.6 849.3,353.1 849.8,356.1 850.3,355.5 850.8,355.7 851.3,357.2 851.8,354.6 852.3,354.7 852.8,352.6 853.3,350.6 853.9,351.3 854.4,350.6 855.0,347.1 855.6,347.9 856.1,346.2 856.7,347.4 857.2,347.8 857.7,347.1 858.3,348.1 858.8,348.7 859.3,352.3 859.8,349.4 860.4,349.7 860.9,348.6 861.5,348.4 862.0,347.6 862.5,347.7 863.1,345.3 863.6,346.9 864.1,345.1 864.6,345.4 865.2,344.4 865.7,343.8 866.2,344.2 866.8,343.6 867.3,342.9 867.8,343.6 868.4,342.6 868.9,340.3 869.5,340.4 870.0,340.6 870.5,341.0 871.0,339.9 871.5,337.8 872.0,335.1 872.5,336.6 873.0,334.5 873.5,333.9 874.0,333.4 874.5,332.3 875.1,330.9 875.6,331.4 876.1,328.9 876.6,328.0 877.2,328.6 877.7,325.6 878.2,325.1 878.8,325.9 879.3,322.6 879.8,325.4 880.3,325.2 880.9,324.7 881.4,324.5 881.9,326.4 882.4,327.1 883.0,325.0 883.5,326.3 884.0,326.9 884.5,325.4 885.1,323.5 885.6,321.6 886.2,321.6 886.8,321.0 887.3,317.3 887.8,317.8 888.3,319.7 888.8,319.6 889.3,319.2 889.8,317.2 890.3,319.4 890.8,320.2 891.3,320.3 891.8,319.3 892.3,317.3 892.8,319.8 893.3,317.8 893.8,319.2 894.3,320.1 894.8,319.4 895.3,317.5 895.9,316.6 896.4,317.1 897.0,313.2 897.6,313.3 898.1,311.2 898.7,308.9 899.2,310.5 899.7,308.8 900.2,309.2 900.7,310.2 901.3,309.4 901.8,309.5 902.3,311.3 902.8,311.9 903.3,312.5 903.8,310.5 904.4,311.9 904.9,311.9 905.5,313.2 906.0,313.3 906.5,313.3 907.0,313.3 907.5,313.3 908.0,313.3 908.5,313.3 909.0,313.3 909.5,313.3 910.0,313.3 910.5,313.3 911.0,313.3 911.5,313.3 912.0,313.3 912.5,313.3 913.0,313.3 913.5,313.3 914.0,313.3 914.5,313.3 915.0,313.3 915.5,313.3 916.0,313.3 916.5,313.3 917.0,313.3 917.5,313.3 918.0,313.3 918.7,308.7 919.2,305.6 919.7,303.2 920.3,304.0 920.8,300.9 921.3,301.1 921.8,300.0 922.3,300.6 922.8,298.8 923.3,298.5 923.8,296.8 924.3,297.2 924.9,295.8 925.4,296.8 925.9,295.6 926.4,293.8 926.9,293.7 927.4,293.6 927.9,294.3 928.4,292.0 928.9,293.2 929.4,292.5 929.9,290.2 930.4,291.1 930.9,288.4 931.4,287.6 932.0,288.1 932.5,286.1 933.0,287.2 933.5,285.0 934.0,284.3 934.5,285.6 935.1,282.9 935.6,284.9 936.1,282.5 936.6,282.6 937.2,284.9 937.7,283.8 938.2,282.1 938.8,281.5 939.3,284.0 939.8,282.8 940.4,281.2 941.0,276.9 941.5,276.3 942.1,273.4 942.7,270.9 943.2,269.9 943.8,269.6 944.3,267.5 944.8,266.3 945.3,264.9 945.8,266.5 946.4,265.3 946.9,265.2 947.4,263.4 948.0,264.1 948.5,262.4 949.0,262.0 949.6,260.5 950.2,259.7 950.7,257.2 951.3,254.8 951.9,254.7 952.4,254.4 952.9,254.2 953.4,253.9 953.9,253.6 954.4,253.3 954.9,253.1 955.4,252.8 955.9,252.5 956.4,252.3 956.9,252.0 957.4,251.7 957.9,251.5 958.4,251.2 958.9,250.9 959.4,250.6 959.9,250.4 960.4,250.1 960.9,249.8 961.4,249.6 961.9,249.3 962.4,249.0 962.9,248.7 963.4,248.5 963.9,248.2 964.4,247.9 964.9,247.7 965.4,247.4 965.9,247.1 966.4,246.9 966.9,246.6 967.4,246.3 967.9,246.0 968.4,245.8 968.9,244.0 969.4,242.4 970.0,239.8 970.5,240.4 971.0,236.9 971.6,238.4 972.1,236.5 972.7,238.6 973.2,240.5 973.8,240.2 974.3,241.9 974.9,244.3 975.5,245.4 976.0,247.9 976.6,248.2 977.1,249.2 977.7,249.5 978.2,251.3 978.8,249.3 979.4,248.1 979.9,246.6 980.5,244.6 981.0,243.5 981.6,241.8 982.1,242.5 982.7,240.9 983.2,243.7 983.8,241.8 984.3,243.6 984.8,242.7 985.4,242.5 985.9,241.8 986.5,242.0 987.0,238.1 987.6,238.6 988.1,236.1 988.7,236.1 989.2,235.6 989.7,233.2 990.2,232.7 990.7,231.5 991.2,231.5 991.7,230.4 992.2,230.8 992.7,232.0 993.2,229.4 993.7,228.6 994.2,228.9 994.8,228.1 995.3,229.4 995.8,229.2 996.3,227.2 996.9,227.3 997.4,228.5 997.9,229.1 998.4,228.0 999.0,227.1 999.5,228.7 1000.0,225.4 1000.5,226.3 1001.0,229.4 1001.5,229.0 1002.0,228.5 1002.5,228.7 1003.0,228.6 1003.5,225.6 1004.0,223.5 1004.5,223.2 1005.0,223.6 1005.5,226.8 1006.0,226.0 1006.5,226.1 1007.0,222.1 1007.5,221.4 1008.0,219.6 1008.5,221.7 1009.0,221.6 1009.5,223.2 1010.0,222.2 1010.5,220.4 1011.0,218.1 1011.6,219.9 1012.1,224.8 1012.7,224.1 1013.2,227.0 1013.8,224.9 1014.2,223.4 1014.8,220.2 1015.3,221.3 1015.8,221.1 1016.4,222.9 1016.9,224.5 1017.5,223.9 1018.0,225.1 1018.5,222.6 1019.0,221.5 1019.5,222.6 1020.0,222.0 1020.5,221.7 1021.0,220.6 1021.5,221.3 1022.0,221.6 1022.5,222.1 1023.0,220.1 1023.5,220.5 1024.0,221.6 1024.5,219.6 1025.0,220.0 1025.5,221.4 1026.0,219.4 1026.5,220.4 1027.0,219.3 1027.5,216.4 1028.0,215.2 1028.5,214.5 1029.0,214.4 1029.5,213.3 1030.0,213.8 1030.5,213.7 1031.0,212.2 1031.5,211.1 1032.0,212.6 1032.5,209.4 1033.0,208.7 1033.5,207.8 1034.0,209.0 1034.5,209.0 1035.0,210.9 1035.5,211.4 1036.0,211.0 1036.5,208.5 1037.0,207.8 1037.5,205.7 1038.0,204.7 1038.5,202.7 1039.0,199.3 1039.5,197.5 1040.0,196.2 1040.5,196.5 1041.1,190.2 1041.6,189.7 1042.1,187.9 1042.6,189.2 1043.1,187.4 1043.6,186.2 1044.1,185.5 1044.6,185.4 1045.1,185.3 1045.6,186.2 1046.1,184.5 1046.6,183.1 1047.1,184.6 1047.7,183.3 1048.2,180.9 1048.7,180.3 1049.2,179.8 1049.8,179.8 1050.3,180.8 1050.8,180.7 1051.3,179.4 1051.8,177.9 1052.3,178.2 1052.8,177.7 1053.3,177.3 1053.8,176.0 1054.3,177.6 1054.8,178.0 1055.3,177.4 1055.8,174.7 1056.4,175.4 1056.9,173.5 1057.4,174.5 1058.0,173.0 1058.5,173.9 1059.0,172.7 1059.6,169.8 1060.1,169.7 1060.6,170.9 1061.2,168.8 1061.7,168.0 1062.2,167.7 1062.8,168.5 1063.3,168.7 1063.8,167.1 1064.3,168.2 1064.8,166.8 1065.4,164.9 1065.9,166.9 1066.4,165.3 1067.0,163.9 1067.5,166.5 1068.0,163.2 1068.5,164.0 1069.1,162.7 1069.6,163.0 1070.2,160.5 1070.7,158.9 1071.2,158.1 1071.8,156.9 1072.3,157.1 1072.8,156.4 1073.4,157.5 1073.9,155.8 1074.5,156.1 1075.0,155.7 1075.6,158.0 1076.1,157.4 1076.7,157.4 1077.2,156.6 1077.7,155.2 1078.3,153.8 1078.8,155.3 1079.3,153.6 1079.9,151.5 1080.4,151.2 1080.9,150.4 1081.5,151.7 1082.0,151.6 1082.5,148.7 1083.1,150.0 1083.6,147.8 1084.1,149.5 1084.7,150.6 1085.2,150.4 1085.7,150.5"/>
<line x1="710.5" y1="118" x2="710.5" y2="656" stroke="#000" stroke-width="1" stroke-dasharray="1 4" stroke-dashoffset="0"/>
<line x1="737.5" y1="118" x2="737.5" y2="656" stroke="#000" stroke-width="1" stroke-dasharray="1 4" stroke-dashoffset="0"/>
<line x1="764.5" y1="118" x2="764.5" y2="656" stroke="#000" stroke-width="1" stroke-dasharray="1 4" stroke-dashoffset="0"/>
<line x1="791.5" y1="118" x2="791.5" y2="656" stroke="#000" stroke-width="1" stroke-dasharray="1 4" stroke-dashoffset="0"/>
<line x1="818.5" y1="118" x2="818.5" y2="656" stroke="#000" stroke-width="1" stroke-dasharray="1 4" stroke-dashoffset="0"/>
<line x1="844.5" y1="118" x2="844.5" y2="656" stroke="#000" stroke-width="1" stroke-dasharray="1 4" stroke-dashoffset="0"/>
<line x1="871.5" y1="118" x2="871.5" y2="656" stroke="#000" stroke-width="1" stroke-dasharray="1 4" stroke-dashoffset="0"/>
<line x1="898.5" y1="118" x2="898.5" y2="656" stroke="#000" stroke-width="1" stroke-dasharray="1 4" stroke-dashoffset="0"/>
<line x1="925.5" y1="118" x2="925.5" y2="656" stroke="#000" stroke-width="1" stroke-dasharray="1 4" stroke-dashoffset="0"/>
<line x1="952.5" y1="118" x2="952.5" y2="656" stroke="#000" stroke-width="1" stroke-dasharray="1 4" stroke-dashoffset="0"/>
<line x1="978.5" y1="118" x2="978.5" y2="656" stroke="#000" stroke-width="1" stroke-dasharray="1 4" stroke-dashoffset="0"/>
<line x1="1005.5" y1="118" x2="1005.5" y2="656" stroke="#000" stroke-width="1" stroke-dasharray="1 4" stroke-dashoffset="0"/>
<line x1="1032.5" y1="118" x2="1032.5" y2="656" stroke="#000" stroke-width="1" stroke-dasharray="1 4" stroke-dashoffset="0"/>
<line x1="1059.5" y1="118" x2="1059.5" y2="656" stroke="#000" stroke-width="1" stroke-dasharray="1 4" stroke-dashoffset="0"/>
<rect x="684.5" y="118.5" width="402" height="537" fill="none" stroke="#000" stroke-width="1"/>
<text x="754.00" y="98.00" font-size="24.5" textLength="259.85" lengthAdjust="spacing">20120329 111659 TEC</text>
<text x="1029.20" y="686.00" font-size="24.5" textLength="63.00" lengthAdjust="spacing">11:30</text>
<text x="731.00" y="714.00" font-size="24.5" textLength="306.42" lengthAdjust="spacing">UT, from 11:16 to 11:31 UT</text>
<line x1="531.5" y1="864" x2="531.5" y2="870" stroke="#000" stroke-width="1"/>
<line x1="531.5" y1="1397" x2="531.5" y2="1403" stroke="#000" stroke-width="1"/>
<line x1="156" y1="1402.5" x2="162" y2="1402.5" stroke="#000" stroke-width="1"/>
<line x1="553" y1="1402.5" x2="559" y2="1402.5" stroke="#000" stroke-width="1"/>
<text x="136.00" y="1412.00" font-size="24.5">0</text>
<line x1="156" y1="1384.5" x2="159" y2="1384.5" stroke="#000" stroke-width="1"/>
<line x1="556" y1="1384.5" x2="559" y2="1384.5" stroke="#000" stroke-width="1"/>
<line x1="156" y1="1366.5" x2="159" y2="1366.5" stroke="#000" stroke-width="1"/>
<line x1="556" y1="1366.5" x2="559" y2="1366.5" stroke="#000" stroke-width="1"/>
<line x1="156" y1="1348.5" x2="159" y2="1348.5" stroke="#000" stroke-width="1"/>
<line x1="556" y1="1348.5" x2="559" y2="1348.5" stroke="#000" stroke-width="1"/>
<line x1="156" y1="1330.5" x2="159" y2="1330.5" stroke="#000" stroke-width="1"/>
<line x1="556" y1="1330.5" x2="559" y2="1330.5" stroke="#000" stroke-width="1"/>
<line x1="156" y1="1312.5" x2="559" y2="1312.5" stroke="#000" stroke-width="1" stroke-dasharray="1 4" stroke-dashoffset="0"/>
<line x1="156" y1="1312.5" x2="162" y2="1312.5" stroke="#000" stroke-width="1"/>
<line x1="553" y1="1312.5" x2="559" y2="1312.5" stroke="#000" stroke-width="1"/>
<text x="116.00" y="1322.00" font-size="24.5">0.5</text>
<line x1="156" y1="1294.5" x2="159" y2="1294.5" stroke="#000" stroke-width="1"/>
<line x1="556" y1="1294.5" x2="559" y2="1294.5" stroke="#000" stroke-width="1"/>
<line x1="156" y1="1276.5" x2="159" y2="1276.5" stroke="#000" stroke-width="1"/>
<line x1="556" y1="1276.5" x2="559" y2="1276.5" stroke="#000" stroke-width="1"/>
<line x1="156" y1="1258.5" x2="159" y2="1258.5" stroke="#000" stroke-width="1"/>
<line x1="556" y1="1258.5" x2="559" y2="1258.5" stroke="#000" stroke-width="1"/>
<line x1="156" y1="1240.5" x2="159" y2="1240.5" stroke="#000" stroke-width="1"/>
<line x1="556" y1="1240.5" x2="559" y2="1240.5" stroke="#000" stroke-width="1"/>
<line x1="156" y1="1222.5" x2="559" y2="1222.5" stroke="#000" stroke-width="1" stroke-dasharray="1 4" stroke-dashoffset="0"/>
<line x1="156" y1="1222.5" x2="162" y2="1222.5" stroke="#000" stroke-width="1"/>
<line x1="553" y1="1222.5" x2="559" y2="1222.5" stroke="#000" stroke-width="1"/>
<text x="136.00" y="1232.00" font-size="24.5">1</text>
<line x1="156" y1="1204.5" x2="159" y2="1204.5" stroke="#000" stroke-width="1"/>
<line x1="556" y1="1204.5" x2="559" y2="1204.5" stroke="#000" stroke-width="1"/>
<line x1="156" y1="1186.5" x2="159" y2="1186.5" stroke="#000" stroke-width="1"/>
<line x1="556" y1="1186.5" x2="559" y2="1186.5" stroke="#000" stroke-width="1"/>
<line x1="156" y1="1168.5" x2="159" y2="1168.5" stroke="#000" stroke-width="1"/>
<line x1="556" y1="1168.5" x2="559" y2="1168.5" stroke="#000" stroke-width="1"/>
<line x1="156" y1="1150.5" x2="159" y2="1150.5" stroke="#000" stroke-width="1"/>
<line x1="556" y1="1150.5" x2="559" y2="1150.5" stroke="#000" stroke-width="1"/>
<line x1="156" y1="1133.5" x2="559" y2="1133.5" stroke="#000" stroke-width="1" stroke-dasharray="1 4" stroke-dashoffset="0"/>
<line x1="156" y1="1133.5" x2="162" y2="1133.5" stroke="#000" stroke-width="1"/>
<line x1="553" y1="1133.5" x2="559" y2="1133.5" stroke="#000" stroke-width="1"/>
<text x="116.00" y="1143.00" font-size="24.5">1.5</text>
<line x1="156" y1="1115.5" x2="159" y2="1115.5" stroke="#000" stroke-width="1"/>
<line x1="556" y1="1115.5" x2="559" y2="1115.5" stroke="#000" stroke-width="1"/>
<line x1="156" y1="1097.5" x2="159" y2="1097.5" stroke="#000" stroke-width="1"/>
<line x1="556" y1="1097.5" x2="559" y2="1097.5" stroke="#000" stroke-width="1"/>
<line x1="156" y1="1079.5" x2="159" y2="1079.5" stroke="#000" stroke-width="1"/>
<line x1="556" y1="1079.5" x2="559" y2="1079.5" stroke="#000" stroke-width="1"/>
<line x1="156" y1="1061.5" x2="159" y2="1061.5" stroke="#000" stroke-width="1"/>
<line x1="556" y1="1061.5" x2="559" y2="1061.5" stroke="#000" stroke-width="1"/>
<line x1="156" y1="1043.5" x2="559" y2="1043.5" stroke="#000" stroke-width="1" stroke-dasharray="1 4" stroke-dashoffset="0"/>
<line x1="156" y1="1043.5" x2="162" y2="1043.5" stroke="#000" stroke-width="1"/>
<line x1="553" y1="1043.5" x2="559" y2="1043.5" stroke="#000" stroke-width="1"/>
<text x="137.00" y="1053.00" font-size="24.5">2</text>
<line x1="156" y1="1025.5" x2="159" y2="1025.5" stroke="#000" stroke-width="1"/>
<line x1="556" y1="1025.5" x2="559" y2="1025.5" stroke="#000" stroke-width="1"/>
<line x1="156" y1="1007.5" x2="159" y2="1007.5" stroke="#000" stroke-width="1"/>
<line x1="556" y1="1007.5" x2="559" y2="1007.5" stroke="#000" stroke-width="1"/>
<line x1="156" y1="989.5" x2="159" y2="989.5" stroke="#000" stroke-width="1"/>
<line x1="556" y1="989.5" x2="559" y2="989.5" stroke="#000" stroke-width="1"/>
<line x1="156" y1="971.5" x2="159" y2="971.5" stroke="#000" stroke-width="1"/>
<line x1="556" y1="971.5" x2="559" y2="971.5" stroke="#000" stroke-width="1"/>
<line x1="156" y1="953.5" x2="559" y2="953.5" stroke="#000" stroke-width="1" stroke-dasharray="1 4" stroke-dashoffset="0"/>
<line x1="156" y1="953.5" x2="162" y2="953.5" stroke="#000" stroke-width="1"/>
<line x1="553" y1="953.5" x2="559" y2="953.5" stroke="#000" stroke-width="1"/>
<text x="116.00" y="963.00" font-size="24.5">2.5</text>
<line x1="156" y1="935.5" x2="159" y2="935.5" stroke="#000" stroke-width="1"/>
<line x1="556" y1="935.5" x2="559" y2="935.5" stroke="#000" stroke-width="1"/>
<line x1="156" y1="917.5" x2="159" y2="917.5" stroke="#000" stroke-width="1"/>
<line x1="556" y1="917.5" x2="559" y2="917.5" stroke="#000" stroke-width="1"/>
<line x1="156" y1="899.5" x2="159" y2="899.5" stroke="#000" stroke-width="1"/>
<line x1="556" y1="899.5" x2="559" y2="899.5" stroke="#000" stroke-width="1"/>
<line x1="156" y1="881.5" x2="159" y2="881.5" stroke="#000" stroke-width="1"/>
<line x1="556" y1="881.5" x2="559" y2="881.5" stroke="#000" stroke-width="1"/>
<line x1="156" y1="864.5" x2="162" y2="864.5" stroke="#000" stroke-width="1"/>
<line x1="553" y1="864.5" x2="559" y2="864.5" stroke="#000" stroke-width="1"/>
<text x="136.00" y="874.00" font-size="24.5">3</text>
<path fill="#f00" d="M183 865h1v269h-1zM183 1133h1v269h-1zM189 865h1v269h-1zM189 1133h1v269h-1zM190 865h1v269h-1zM190 1133h1v269h-1zM191 1133h1v269h-1zM192 865h1v269h-1zM192 1133h1v269h-1zM193 865h1v269h-1zM193 1133h1v269h-1zM195 865h1v269h-1zM195 1133h1v269h-1zM196 865h1v269h-1zM196 1133h1v269h-1zM198 865h1v269h-1zM198 1133h1v269h-1zM199 1133h1v269h-1zM203 865h1v269h-1zM203 1133h1v269h-1zM204 865h1v269h-1zM204 1133h1v269h-1zM206 865h1v269h-1zM206 1133h1v269h-1zM207 865h1v269h-1zM207 1133h1v269h-1zM208 865h1v269h-1zM208 1133h1v269h-1zM209 865h1v269h-1zM209 1133h1v269h-1zM210 865h1v269h-1zM210 1133h1v269h-1zM211 865h1v269h-1zM211 1133h1v269h-1zM212 865h1v269h-1zM212 1133h1v269h-1zM213 865h1v269h-1zM213 1133h1v269h-1zM215 865h1v269h-1zM215 1133h1v269h-1zM216 1133h1v269h-1zM217 865h1v269h-1zM217 1133h1v269h-1zM221 865h1v269h-1zM221 1133h1v269h-1zM222 865h1v269h-1zM222 1133h1v269h-1zM223 865h1v269h-1zM224 1133h1v269h-1zM225 865h1v269h-1zM225 1133h1v269h-1zM228 865h1v269h-1zM228 1133h1v269h-1zM229 865h1v269h-1zM229 1133h1v269h-1zM234 865h1v269h-1zM234 1133h1v269h-1zM235 865h1v269h-1zM235 1133h1v269h-1zM236 865h1v269h-1zM236 1133h1v269h-1zM237 865h1v269h-1zM237 1133h1v269h-1zM238 1133h1v269h-1zM241 865h1v269h-1zM242 865h1v269h-1zM242 1133h1v269h-1zM243 865h1v269h-1zM244 865h1v269h-1zM244 1133h1v269h-1zM245 865h1v269h-1zM245 1133h1v269h-1zM246 865h1v269h-1zM246 1133h1v269h-1zM247 1133h1v269h-1zM248 865h1v269h-1zM249 1133h1v269h-1zM250 865h1v269h-1zM250 1133h1v269h-1zM251 865h1v269h-1zM251 1133h1v269h-1zM252 865h1v269h-1zM252 1133h1v269h-1zM253 865h1v269h-1zM253 1133h1v269h-1zM257 865h1v269h-1zM257 1133h1v269h-1zM258 865h1v269h-1zM258 1133h1v269h-1zM259 865h1v269h-1zM259 1133h1v269h-1zM260 865h1v269h-1zM260 1133h1v269h-1zM261 865h1v269h-1zM261 1133h1v269h-1zM263 865h1v269h-1zM263 1133h1v269h-1zM264 865h1v269h-1zM264 1133h1v269h-1zM265 865h1v269h-1zM265 1133h1v269h-1zM266 1133h1v269h-1zM267 1133h1v269h-1zM268 865h1v269h-1zM268 1133h1v269h-1zM270 1133h1v269h-1zM271 1133h1v269h-1zM272 1133h1v269h-1zM273 865h1v269h-1zM274 865h1v269h-1zM274 1133h1v269h-1zM275 865h1v269h-1zM275 1133h1v269h-1zM276 865h1v269h-1zM276 1133h1v269h-1zM281 865h1v269h-1zM281 1133h1v269h-1zM282 865h1v269h-1zM282 1133h1v269h-1zM283 1133h1v269h-1zM284 865h1v269h-1zM284 1133h1v269h-1zM285 865h1v269h-1zM285 1133h1v269h-1zM286 865h1v269h-1zM286 1133h1v269h-1zM288 865h1v269h-1zM288 1133h1v269h-1zM290 865h1v269h-1zM290 1133h1v269h-1zM291 865h1v269h-1zM291 1133h1v269h-1zM293 865h1v269h-1zM293 1133h1v269h-1zM297 865h1v269h-1zM297 1133h1v269h-1zM298 865h1v269h-1zM299 1133h1v269h-1zM300 865h1v269h-1zM300 1133h1v269h-1zM304 865h1v269h-1zM304 1133h1v269h-1zM305 865h1v269h-1zM305 1133h1v269h-1zM306 865h1v269h-1zM306 1133h1v269h-1zM307 865h1v269h-1zM307 1133h1v269h-1zM308 865h1v269h-1zM308 1133h1v269h-1zM309 865h1v269h-1zM309 1133h1v269h-1zM310 865h1v269h-1zM310 1133h1v269h-1zM311 865h1v269h-1zM311 1133h1v269h-1zM316 865h1v269h-1zM316 1133h1v269h-1zM317 1133h1v269h-1zM318 865h1v269h-1zM318 1133h1v269h-1zM319 865h1v269h-1zM319 1133h1v269h-1zM320 865h1v269h-1zM320 1133h1v269h-1zM321 865h1v269h-1zM321 1133h1v269h-1zM322 865h1v269h-1zM324 865h1v269h-1zM325 865h1v269h-1zM325 1133h1v269h-1zM326 865h1v269h-1zM327 865h1v269h-1zM327 1133h1v269h-1zM328 865h1v269h-1zM328 1133h1v269h-1zM329 865h1v269h-1zM329 1133h1v269h-1zM330 865h1v269h-1zM330 1133h1v269h-1zM331 865h1v269h-1zM331 1133h1v269h-1zM336 1133h1v269h-1zM337 865h1v269h-1zM337 1133h1v269h-1zM340 1133h1v269h-1zM341 865h1v269h-1zM342 865h1v269h-1zM342 1133h1v269h-1zM343 865h1v269h-1zM343 1133h1v269h-1zM344 865h1v269h-1zM344 1133h1v269h-1zM345 865h1v269h-1zM345 1133h1v269h-1zM346 865h1v269h-1zM346 1133h1v269h-1zM348 865h1v269h-1zM349 865h1v269h-1zM350 865h1v269h-1zM350 1133h1v269h-1zM351 865h1v269h-1zM351 1133h1v269h-1zM352 865h1v269h-1zM353 1133h1v269h-1zM354 865h1v269h-1zM354 1133h1v269h-1zM355 865h1v269h-1zM355 1133h1v269h-1zM451 865h1v537h-1zM452 865h1v537h-1zM453 865h1v537h-1zM454 865h1v537h-1zM455 865h1v537h-1zM458 865h1v537h-1zM459 865h1v537h-1zM460 865h1v537h-1zM461 865h1v537h-1zM463 865h1v537h-1zM465 865h1v537h-1zM466 865h1v537h-1zM470 865h1v537h-1zM471 865h1v537h-1zM472 865h1v537h-1zM473 865h1v537h-1zM476 865h1v537h-1zM477 865h1v537h-1zM478 865h1v537h-1zM483 865h1v537h-1zM484 865h1v537h-1zM485 865h1v537h-1zM487 865h1v537h-1zM488 865h1v537h-1zM490 865h1v537h-1zM491 865h1v537h-1zM492 865h1v537h-1zM493 865h1v537h-1zM498 865h1v537h-1zM499 865h1v537h-1zM500 865h1v537h-1zM502 865h1v537h-1zM504 865h1v537h-1zM505 865h1v537h-1zM506 865h1v537h-1zM507 865h1v537h-1zM508 865h1v537h-1zM509 865h1v537h-1zM510 865h1v537h-1zM511 865h1v537h-1zM515 865h1v537h-1zM517 865h1v537h-1zM518 865h1v537h-1zM521 865h1v537h-1zM522 865h1v537h-1zM523 865h1v537h-1zM524 865h1v537h-1zM527 865h1v537h-1zM528 865h1v537h-1zM529 865h1v537h-1zM532 865h1v537h-1zM533 865h1v537h-1zM534 865h1v537h-1zM539 865h1v537h-1zM541 865h1v537h-1zM542 865h1v537h-1zM546 865h1v537h-1zM547 865h1v537h-1zM548 865h1v537h-1zM550 865h1v537h-1zM551 865h1v537h-1zM553 865h1v537h-1zM554 865h1v537h-1zM555 865h1v537h-1zM556 865h1v537h-1zM364 865h1v537h-1zM403 865h1v537h-1zM405 865h1v537h-1zM356 865h1v17h-1zM357 865h1v17h-1zM362 903h1v121h-1zM363 948h1v233h-1zM364 865h1v537h-1zM359 978h1v203h-1zM365 1005h1v176h-1zM367 983h1v253h-1zM368 976h1v263h-1zM369 985h1v234h-1zM370 1051h1v183h-1zM371 1070h1v172h-1zM372 1079h1v134h-1zM373 1046h1v184h-1zM374 1059h1v152h-1zM375 1045h1v191h-1zM376 1100h1v180h-1zM378 1350h1v17h-1zM379 1349h1v22h-1zM380 1350h1v24h-1zM381 1346h1v26h-1zM382 1352h1v18h-1zM383 1352h1v15h-1zM384 1350h1v8h-1zM385 1349h1v10h-1zM386 1345h1v19h-1zM387 1346h1v14h-1zM388 1340h1v19h-1zM386 1331h1v20h-1zM387 1331h1v15h-1zM391 1056h1v158h-1zM392 1037h1v198h-1zM394 1097h1v90h-1zM396 1056h1v186h-1zM397 1035h1v155h-1zM398 1064h1v162h-1zM399 919h1v263h-1zM400 943h1v158h-1zM404 926h1v241h-1zM408 928h1v206h-1zM409 969h1v141h-1zM410 1007h1v100h-1zM411 976h1v181h-1zM412 988h1v131h-1zM413 1044h1v123h-1zM414 1069h1v96h-1zM415 1047h1v104h-1zM416 1095h1v94h-1zM418 1043h1v158h-1zM422 1038h1v140h-1zM423 1021h1v172h-1zM425 1029h1v133h-1zM393 904h1v231h-1zM399 865h1v136h-1zM409 865h1v186h-1zM425 1040h1v219h-1zM429 1375h1v12h-1zM430 1375h1v8h-1zM431 1378h1v7h-1zM432 1376h1v11h-1zM433 1377h1v7h-1zM434 1378h1v8h-1zM435 1378h1v6h-1zM436 1377h1v7h-1zM437 1375h1v10h-1zM438 1375h1v12h-1zM439 1375h1v9h-1zM440 1375h1v12h-1zM428 1360h1v21h-1zM429 1355h1v24h-1zM442 865h1v400h-1zM445 865h1v382h-1zM446 865h1v408h-1zM448 865h1v421h-1zM449 865h1v402h-1zM446 865h1v453h-1zM441 865h1v336h-1zM448 865h1v336h-1zM449 865h1v336h-1z"/><path fill="#00f" d="M183 1350h1v10h-1zM184 1353h1v6h-1zM185 1353h1v7h-1zM186 1353h1v5h-1zM187 1349h1v9h-1zM188 1352h1v6h-1zM189 1351h1v8h-1zM190 1350h1v10h-1zM191 1353h1v5h-1zM192 1351h1v14h-1zM193 1351h1v7h-1zM194 1352h1v8h-1zM195 1353h1v13h-1zM196 1353h1v10h-1zM197 1353h1v5h-1zM198 1350h1v10h-1zM199 1350h1v11h-1zM200 1350h1v7h-1zM201 1349h1v6h-1zM202 1347h1v10h-1zM203 1349h1v7h-1zM204 1348h1v10h-1zM205 1342h1v15h-1zM206 1349h1v7h-1zM207 1343h1v13h-1zM208 1350h1v5h-1zM209 1349h1v6h-1zM210 1349h1v9h-1zM211 1348h1v10h-1zM212 1350h1v7h-1zM213 1350h1v9h-1zM214 1351h1v13h-1zM215 1351h1v7h-1zM216 1346h1v14h-1zM217 1350h1v12h-1zM218 1350h1v8h-1zM219 1352h1v6h-1zM220 1351h1v9h-1zM221 1351h1v6h-1zM222 1349h1v11h-1zM223 1349h1v10h-1zM224 1351h1v6h-1zM225 1352h1v6h-1zM226 1352h1v7h-1zM227 1350h1v9h-1zM204 1340h1v23h-1zM205 1342h1v19h-1zM228 891h1v470h-1zM229 891h1v92h-1zM229 1040h1v117h-1zM230 1046h1v100h-1zM231 1043h1v30h-1zM232 1045h1v82h-1zM233 1039h1v94h-1zM234 1051h1v107h-1zM235 1046h1v110h-1zM236 1023h1v116h-1zM231 925h1v38h-1zM232 925h1v38h-1zM250 1047h1v58h-1zM255 1006h1v135h-1zM237 1140h1v34h-1zM238 1147h1v38h-1zM239 1150h1v44h-1zM240 1114h1v119h-1zM241 1129h1v93h-1zM242 1126h1v18h-1zM243 1133h1v85h-1zM244 1169h1v49h-1zM245 1102h1v119h-1zM246 1156h1v37h-1zM247 1167h1v21h-1zM248 1167h1v32h-1zM249 1134h1v18h-1zM250 1127h1v20h-1zM251 1104h1v109h-1zM252 1176h1v27h-1zM253 1166h1v25h-1zM254 1161h1v37h-1zM255 1135h1v64h-1zM237 1202h1v32h-1zM238 1203h1v33h-1zM239 1208h1v28h-1zM240 1203h1v31h-1zM241 1203h1v31h-1zM242 1209h1v26h-1zM243 1202h1v27h-1zM244 1210h1v21h-1zM245 1202h1v29h-1zM256 949h1v153h-1zM257 1003h1v118h-1zM258 1012h1v118h-1zM259 1065h1v73h-1zM260 1046h1v23h-1zM261 1064h1v48h-1zM262 949h1v190h-1zM263 992h1v131h-1zM264 1078h1v54h-1zM265 980h1v163h-1zM266 1008h1v148h-1zM267 981h1v125h-1zM268 994h1v136h-1zM269 975h1v186h-1zM270 1058h1v28h-1zM271 1037h1v52h-1zM272 999h1v42h-1zM273 1039h1v36h-1zM274 1079h1v46h-1zM275 1100h1v105h-1zM276 1014h1v120h-1zM288 947h1v163h-1zM289 1010h1v113h-1zM290 1125h1v97h-1zM291 1017h1v129h-1zM292 943h1v213h-1zM293 941h1v198h-1zM294 978h1v179h-1zM295 865h1v244h-1zM296 940h1v110h-1zM297 970h1v140h-1zM298 952h1v144h-1zM299 968h1v267h-1zM300 1036h1v32h-1zM301 1114h1v30h-1zM302 1121h1v36h-1zM303 1016h1v146h-1zM304 962h1v154h-1zM305 976h1v204h-1zM306 1066h1v53h-1zM307 1027h1v44h-1zM308 993h1v25h-1zM309 995h1v30h-1zM310 936h1v213h-1zM311 1025h1v130h-1zM312 986h1v31h-1zM313 918h1v230h-1zM314 997h1v41h-1zM315 924h1v174h-1zM316 988h1v185h-1zM317 995h1v128h-1zM318 990h1v37h-1zM319 989h1v196h-1zM320 936h1v206h-1zM321 938h1v106h-1zM322 980h1v183h-1zM323 962h1v178h-1zM324 1004h1v19h-1zM325 982h1v154h-1zM326 999h1v82h-1zM327 965h1v187h-1zM328 1036h1v50h-1zM329 959h1v204h-1zM330 1095h1v75h-1zM331 1034h1v17h-1zM332 996h1v39h-1zM333 1013h1v105h-1zM334 876h1v359h-1zM335 1023h1v181h-1zM336 917h1v213h-1zM337 939h1v149h-1zM338 1043h1v48h-1zM339 953h1v172h-1zM340 896h1v191h-1zM341 1039h1v55h-1zM342 963h1v293h-1zM343 986h1v40h-1zM344 982h1v114h-1zM345 1082h1v22h-1zM346 1058h1v43h-1zM347 974h1v129h-1zM348 1006h1v43h-1zM349 938h1v168h-1zM350 1061h1v51h-1zM351 1125h1v33h-1zM352 1013h1v111h-1zM353 975h1v147h-1zM354 958h1v138h-1zM355 961h1v198h-1zM256 865h1v150h-1zM266 865h1v178h-1zM267 865h1v175h-1zM270 865h1v171h-1zM271 865h1v208h-1zM314 865h1v196h-1zM315 865h1v178h-1zM335 865h1v193h-1zM336 865h1v184h-1zM339 865h1v147h-1zM340 865h1v149h-1zM346 865h1v154h-1zM347 865h1v215h-1zM348 865h1v148h-1zM352 865h1v152h-1zM353 865h1v216h-1zM273 1325h1v13h-1zM274 1329h1v9h-1zM275 1327h1v10h-1zM276 1327h1v16h-1zM277 1329h1v16h-1zM278 1333h1v7h-1zM279 1332h1v8h-1zM280 1332h1v8h-1zM281 1330h1v13h-1zM282 1327h1v13h-1zM283 1331h1v12h-1zM284 1329h1v12h-1zM285 1325h1v13h-1zM286 1324h1v14h-1zM287 1324h1v18h-1zM272 1140h1v191h-1zM288 1140h1v191h-1zM281 1285h1v61h-1zM356 865h1v330h-1zM357 865h1v333h-1zM358 865h1v332h-1zM359 1020h1v162h-1zM360 865h1v156h-1zM361 865h1v348h-1zM362 865h1v323h-1zM363 865h1v320h-1zM364 865h1v294h-1zM365 865h1v307h-1zM366 885h1v67h-1zM367 894h1v85h-1zM368 865h1v166h-1zM369 865h1v186h-1zM370 865h1v99h-1zM371 865h1v99h-1zM372 865h1v99h-1zM373 955h1v56h-1zM374 865h1v146h-1zM375 865h1v124h-1zM376 926h1v31h-1zM377 865h1v488h-1zM378 1344h1v12h-1zM379 1348h1v9h-1zM380 1352h1v7h-1zM381 1352h1v10h-1zM382 1356h1v8h-1zM383 1358h1v7h-1zM384 1352h1v13h-1zM385 1350h1v13h-1zM386 1352h1v9h-1zM387 1348h1v8h-1zM388 1346h1v11h-1zM389 865h1v491h-1zM390 965h1v21h-1zM391 865h1v164h-1zM392 865h1v177h-1zM393 865h1v151h-1zM394 904h1v153h-1zM395 871h1v160h-1zM396 911h1v103h-1zM397 943h1v102h-1zM398 865h1v178h-1zM399 917h1v90h-1zM400 895h1v140h-1zM401 865h1v174h-1zM402 865h1v177h-1zM403 865h1v162h-1zM404 865h1v157h-1zM405 865h1v162h-1zM406 865h1v191h-1zM407 928h1v61h-1zM408 865h1v179h-1zM409 927h1v79h-1zM410 865h1v189h-1zM411 865h1v159h-1zM412 917h1v91h-1zM413 865h1v193h-1zM414 865h1v177h-1zM415 865h1v174h-1zM416 865h1v174h-1zM417 948h1v44h-1zM418 961h1v70h-1zM419 934h1v58h-1zM420 915h1v39h-1zM421 865h1v144h-1zM422 865h1v147h-1zM423 865h1v156h-1zM424 865h1v183h-1zM425 912h1v93h-1zM426 865h1v486h-1zM427 1342h1v12h-1zM428 1348h1v10h-1zM429 1357h1v9h-1zM430 1360h1v9h-1zM431 1370h1v5h-1zM432 1359h1v10h-1zM433 1357h1v9h-1zM434 1346h1v12h-1zM435 1344h1v7h-1zM436 1336h1v8h-1zM437 1331h1v7h-1zM438 1323h1v6h-1zM439 1315h1v11h-1zM440 1307h1v12h-1zM441 865h1v446h-1zM442 865h1v56h-1zM443 865h1v56h-1zM444 865h1v56h-1zM445 865h1v235h-1zM446 865h1v263h-1zM447 865h1v245h-1zM448 865h1v283h-1zM449 865h1v246h-1zM450 865h1v271h-1zM451 890h1v113h-1zM452 865h1v209h-1zM453 865h1v256h-1zM454 891h1v176h-1zM455 865h1v213h-1zM456 978h1v71h-1zM457 865h1v216h-1zM458 865h1v225h-1zM459 865h1v211h-1zM460 1027h1v27h-1zM461 922h1v53h-1zM462 865h1v245h-1zM463 865h1v206h-1zM464 865h1v169h-1zM465 901h1v117h-1zM466 865h1v159h-1zM467 1035h1v29h-1zM468 865h1v257h-1zM469 865h1v138h-1zM470 865h1v141h-1zM471 992h1v11h-1zM472 865h1v119h-1zM473 921h1v59h-1zM474 865h1v130h-1zM475 865h1v166h-1zM476 865h1v157h-1zM477 865h1v183h-1zM478 925h1v109h-1zM479 1006h1v24h-1zM480 865h1v140h-1zM481 865h1v212h-1zM482 865h1v143h-1zM483 865h1v168h-1zM484 865h1v170h-1zM485 901h1v169h-1zM486 865h1v167h-1zM487 995h1v56h-1zM488 990h1v30h-1zM489 913h1v154h-1zM490 865h1v212h-1zM491 865h1v204h-1zM492 887h1v155h-1zM493 902h1v81h-1zM494 865h1v196h-1zM495 865h1v220h-1zM496 865h1v171h-1zM497 865h1v241h-1zM498 978h1v89h-1zM499 892h1v117h-1zM500 967h1v74h-1zM501 865h1v221h-1zM502 957h1v90h-1zM503 974h1v35h-1zM504 949h1v112h-1zM505 946h1v123h-1zM506 865h1v178h-1zM507 926h1v84h-1zM508 865h1v246h-1zM509 897h1v53h-1zM510 940h1v187h-1zM511 1010h1v38h-1zM512 1018h1v68h-1zM513 865h1v205h-1zM514 933h1v100h-1zM515 865h1v212h-1zM516 865h1v163h-1zM517 934h1v141h-1zM518 865h1v200h-1zM519 865h1v155h-1zM520 1021h1v16h-1zM521 895h1v93h-1zM522 865h1v183h-1zM523 865h1v169h-1zM524 935h1v129h-1zM525 865h1v182h-1zM526 865h1v204h-1zM527 987h1v94h-1zM528 865h1v182h-1zM529 881h1v42h-1zM530 955h1v126h-1zM531 865h1v200h-1zM532 865h1v229h-1zM533 926h1v158h-1zM534 886h1v187h-1zM535 865h1v221h-1zM536 985h1v63h-1zM537 994h1v103h-1zM538 1008h1v42h-1zM539 1012h1v10h-1zM540 1012h1v32h-1zM541 979h1v80h-1zM542 865h1v147h-1zM543 964h1v71h-1zM544 865h1v183h-1zM545 865h1v183h-1zM546 865h1v184h-1zM547 865h1v190h-1zM548 1006h1v25h-1zM549 865h1v189h-1zM550 934h1v82h-1zM551 865h1v256h-1zM552 865h1v176h-1zM553 967h1v71h-1zM554 865h1v145h-1zM555 962h1v78h-1zM556 912h1v137h-1zM557 865h1v166h-1z"/>
<line x1="182.5" y1="864" x2="182.5" y2="1403" stroke="#000" stroke-width="1" stroke-dasharray="1 4" stroke-dashoffset="0"/>
<line x1="209.5" y1="864" x2="209.5" y2="1403" stroke="#000" stroke-width="1" stroke-dasharray="1 4" stroke-dashoffset="0"/>
<line x1="236.5" y1="864" x2="236.5" y2="1403" stroke="#000" stroke-width="1" stroke-dasharray="1 4" stroke-dashoffset="0"/>
<line x1="263.5" y1="864" x2="263.5" y2="1403" stroke="#000" stroke-width="1" stroke-dasharray="1 4" stroke-dashoffset="0"/>
<line x1="290.5" y1="864" x2="290.5" y2="1403" stroke="#000" stroke-width="1" stroke-dasharray="1 4" stroke-dashoffset="0"/>
<line x1="316.5" y1="864" x2="316.5" y2="1403" stroke="#000" stroke-width="1" stroke-dasharray="1 4" stroke-dashoffset="0"/>
<line x1="343.5" y1="864" x2="343.5" y2="1403" stroke="#000" stroke-width="1" stroke-dasharray="1 4" stroke-dashoffset="0"/>
<line x1="370.5" y1="864" x2="370.5" y2="1403" stroke="#000" stroke-width="1" stroke-dasharray="1 4" stroke-dashoffset="0"/>
<line x1="397.5" y1="864" x2="397.5" y2="1403" stroke="#000" stroke-width="1" stroke-dasharray="1 4" stroke-dashoffset="0"/>
<line x1="424.5" y1="864" x2="424.5" y2="1403" stroke="#000" stroke-width="1" stroke-dasharray="1 4" stroke-dashoffset="0"/>
<line x1="450.5" y1="864" x2="450.5" y2="1403" stroke="#000" stroke-width="1" stroke-dasharray="1 4" stroke-dashoffset="0"/>
<line x1="477.5" y1="864" x2="477.5" y2="1403" stroke="#000" stroke-width="1" stroke-dasharray="1 4" stroke-dashoffset="0"/>
<line x1="504.5" y1="864" x2="504.5" y2="1403" stroke="#000" stroke-width="1" stroke-dasharray="1 4" stroke-dashoffset="0"/>
<line x1="531.5" y1="864" x2="531.5" y2="1403" stroke="#000" stroke-width="1" stroke-dasharray="1 4" stroke-dashoffset="0"/>
<rect x="156.5" y="864.5" width="402" height="538" fill="none" stroke="#000" stroke-width="1"/>
<text x="159.30" y="844.00" font-size="24.5" textLength="394.12" lengthAdjust="spacing">20120329 111659 S4 red(150MHz)</text>
<text x="97.50" y="1151.50" font-size="24.5" transform="rotate(-90 97.50 1151.50)" textLength="31.97" lengthAdjust="spacing">S4</text>
<text x="501.20" y="1433.00" font-size="24.5" textLength="63.00" lengthAdjust="spacing">11:30</text>
<text x="203.00" y="1461.00" font-size="24.5" textLength="306.42" lengthAdjust="spacing">UT, from 11:16 to 11:31 UT</text>
<line x1="1059.5" y1="864" x2="1059.5" y2="870" stroke="#000" stroke-width="1"/>
<line x1="1059.5" y1="1397" x2="1059.5" y2="1403" stroke="#000" stroke-width="1"/>
<line x1="684" y1="1402.5" x2="690" y2="1402.5" stroke="#000" stroke-width="1"/>
<line x1="1081" y1="1402.5" x2="1087" y2="1402.5" stroke="#000" stroke-width="1"/>
<text x="664.00" y="1412.00" font-size="24.5">0</text>
<line x1="684" y1="1388.5" x2="687" y2="1388.5" stroke="#000" stroke-width="1"/>
<line x1="1084" y1="1388.5" x2="1087" y2="1388.5" stroke="#000" stroke-width="1"/>
<line x1="684" y1="1375.5" x2="687" y2="1375.5" stroke="#000" stroke-width="1"/>
<line x1="1084" y1="1375.5" x2="1087" y2="1375.5" stroke="#000" stroke-width="1"/>
<line x1="684" y1="1361.5" x2="687" y2="1361.5" stroke="#000" stroke-width="1"/>
<line x1="1084" y1="1361.5" x2="1087" y2="1361.5" stroke="#000" stroke-width="1"/>
<line x1="684" y1="1348.5" x2="687" y2="1348.5" stroke="#000" stroke-width="1"/>
<line x1="1084" y1="1348.5" x2="1087" y2="1348.5" stroke="#000" stroke-width="1"/>
<line x1="684" y1="1334.5" x2="687" y2="1334.5" stroke="#000" stroke-width="1"/>
<line x1="1084" y1="1334.5" x2="1087" y2="1334.5" stroke="#000" stroke-width="1"/>
<line x1="684" y1="1321.5" x2="687" y2="1321.5" stroke="#000" stroke-width="1"/>
<line x1="1084" y1="1321.5" x2="1087" y2="1321.5" stroke="#000" stroke-width="1"/>
<line x1="684" y1="1307.5" x2="687" y2="1307.5" stroke="#000" stroke-width="1"/>
<line x1="1084" y1="1307.5" x2="1087" y2="1307.5" stroke="#000" stroke-width="1"/>
<line x1="684" y1="1294.5" x2="687" y2="1294.5" stroke="#000" stroke-width="1"/>
<line x1="1084" y1="1294.5" x2="1087" y2="1294.5" stroke="#000" stroke-width="1"/>
<line x1="684" y1="1280.5" x2="687" y2="1280.5" stroke="#000" stroke-width="1"/>
<line x1="1084" y1="1280.5" x2="1087" y2="1280.5" stroke="#000" stroke-width="1"/>
<line x1="684" y1="1267.5" x2="1087" y2="1267.5" stroke="#000" stroke-width="1" stroke-dasharray="1 4" stroke-dashoffset="0"/>
<line x1="684" y1="1267.5" x2="690" y2="1267.5" stroke="#000" stroke-width="1"/>
<line x1="1081" y1="1267.5" x2="1087" y2="1267.5" stroke="#000" stroke-width="1"/>
<text x="651.00" y="1277.00" font-size="24.5">50</text>
<line x1="684" y1="1254.5" x2="687" y2="1254.5" stroke="#000" stroke-width="1"/>
<line x1="1084" y1="1254.5" x2="1087" y2="1254.5" stroke="#000" stroke-width="1"/>
<line x1="684" y1="1240.5" x2="687" y2="1240.5" stroke="#000" stroke-width="1"/>
<line x1="1084" y1="1240.5" x2="1087" y2="1240.5" stroke="#000" stroke-width="1"/>
<line x1="684" y1="1227.5" x2="687" y2="1227.5" stroke="#000" stroke-width="1"/>
<line x1="1084" y1="1227.5" x2="1087" y2="1227.5" stroke="#000" stroke-width="1"/>
<line x1="684" y1="1213.5" x2="687" y2="1213.5" stroke="#000" stroke-width="1"/>
<line x1="1084" y1="1213.5" x2="1087" y2="1213.5" stroke="#000" stroke-width="1"/>
<line x1="684" y1="1200.5" x2="687" y2="1200.5" stroke="#000" stroke-width="1"/>
<line x1="1084" y1="1200.5" x2="1087" y2="1200.5" stroke="#000" stroke-width="1"/>
<line x1="684" y1="1186.5" x2="687" y2="1186.5" stroke="#000" stroke-width="1"/>
<line x1="1084" y1="1186.5" x2="1087" y2="1186.5" stroke="#000" stroke-width="1"/>
<line x1="684" y1="1173.5" x2="687" y2="1173.5" stroke="#000" stroke-width="1"/>
<line x1="1084" y1="1173.5" x2="1087" y2="1173.5" stroke="#000" stroke-width="1"/>
<line x1="684" y1="1159.5" x2="687" y2="1159.5" stroke="#000" stroke-width="1"/>
<line x1="1084" y1="1159.5" x2="1087" y2="1159.5" stroke="#000" stroke-width="1"/>
<line x1="684" y1="1146.5" x2="687" y2="1146.5" stroke="#000" stroke-width="1"/>
<line x1="1084" y1="1146.5" x2="1087" y2="1146.5" stroke="#000" stroke-width="1"/>
<line x1="684" y1="1133.5" x2="1087" y2="1133.5" stroke="#000" stroke-width="1" stroke-dasharray="1 4" stroke-dashoffset="0"/>
<line x1="684" y1="1133.5" x2="690" y2="1133.5" stroke="#000" stroke-width="1"/>
<line x1="1081" y1="1133.5" x2="1087" y2="1133.5" stroke="#000" stroke-width="1"/>
<text x="637.00" y="1143.00" font-size="24.5">100</text>
<line x1="684" y1="1119.5" x2="687" y2="1119.5" stroke="#000" stroke-width="1"/>
<line x1="1084" y1="1119.5" x2="1087" y2="1119.5" stroke="#000" stroke-width="1"/>
<line x1="684" y1="1106.5" x2="687" y2="1106.5" stroke="#000" stroke-width="1"/>
<line x1="1084" y1="1106.5" x2="1087" y2="1106.5" stroke="#000" stroke-width="1"/>
<line x1="684" y1="1092.5" x2="687" y2="1092.5" stroke="#000" stroke-width="1"/>
<line x1="1084" y1="1092.5" x2="1087" y2="1092.5" stroke="#000" stroke-width="1"/>
<line x1="684" y1="1079.5" x2="687" y2="1079.5" stroke="#000" stroke-width="1"/>
<line x1="1084" y1="1079.5" x2="1087" y2="1079.5" stroke="#000" stroke-width="1"/>
<line x1="684" y1="1065.5" x2="687" y2="1065.5" stroke="#000" stroke-width="1"/>
<line x1="1084" y1="1065.5" x2="1087" y2="1065.5" stroke="#000" stroke-width="1"/>
<line x1="684" y1="1052.5" x2="687" y2="1052.5" stroke="#000" stroke-width="1"/>
<line x1="1084" y1="1052.5" x2="1087" y2="1052.5" stroke="#000" stroke-width="1"/>
<line x1="684" y1="1038.5" x2="687" y2="1038.5" stroke="#000" stroke-width="1"/>
<line x1="1084" y1="1038.5" x2="1087" y2="1038.5" stroke="#000" stroke-width="1"/>
<line x1="684" y1="1025.5" x2="687" y2="1025.5" stroke="#000" stroke-width="1"/>
<line x1="1084" y1="1025.5" x2="1087" y2="1025.5" stroke="#000" stroke-width="1"/>
<line x1="684" y1="1011.5" x2="687" y2="1011.5" stroke="#000" stroke-width="1"/>
<line x1="1084" y1="1011.5" x2="1087" y2="1011.5" stroke="#000" stroke-width="1"/>
<line x1="684" y1="998.5" x2="1087" y2="998.5" stroke="#000" stroke-width="1" stroke-dasharray="1 4" stroke-dashoffset="0"/>
<line x1="684" y1="998.5" x2="690" y2="998.5" stroke="#000" stroke-width="1"/>
<line x1="1081" y1="998.5" x2="1087" y2="998.5" stroke="#000" stroke-width="1"/>
<text x="637.00" y="1008.00" font-size="24.5">150</text>
<line x1="684" y1="985.5" x2="687" y2="985.5" stroke="#000" stroke-width="1"/>
<line x1="1084" y1="985.5" x2="1087" y2="985.5" stroke="#000" stroke-width="1"/>
<line x1="684" y1="971.5" x2="687" y2="971.5" stroke="#000" stroke-width="1"/>
<line x1="1084" y1="971.5" x2="1087" y2="971.5" stroke="#000" stroke-width="1"/>
<line x1="684" y1="958.5" x2="687" y2="958.5" stroke="#000" stroke-width="1"/>
<line x1="1084" y1="958.5" x2="1087" y2="958.5" stroke="#000" stroke-width="1"/>
<line x1="684" y1="944.5" x2="687" y2="944.5" stroke="#000" stroke-width="1"/>
<line x1="1084" y1="944.5" x2="1087" y2="944.5" stroke="#000" stroke-width="1"/>
<line x1="684" y1="931.5" x2="687" y2="931.5" stroke="#000" stroke-width="1"/>
<line x1="1084" y1="931.5" x2="1087" y2="931.5" stroke="#000" stroke-width="1"/>
<line x1="684" y1="917.5" x2="687" y2="917.5" stroke="#000" stroke-width="1"/>
<line x1="1084" y1="917.5" x2="1087" y2="917.5" stroke="#000" stroke-width="1"/>
<line x1="684" y1="904.5" x2="687" y2="904.5" stroke="#000" stroke-width="1"/>
<line x1="1084" y1="904.5" x2="1087" y2="904.5" stroke="#000" stroke-width="1"/>
<line x1="684" y1="890.5" x2="687" y2="890.5" stroke="#000" stroke-width="1"/>
<line x1="1084" y1="890.5" x2="1087" y2="890.5" stroke="#000" stroke-width="1"/>
<line x1="684" y1="877.5" x2="687" y2="877.5" stroke="#000" stroke-width="1"/>
<line x1="1084" y1="877.5" x2="1087" y2="877.5" stroke="#000" stroke-width="1"/>
<line x1="684" y1="864.5" x2="690" y2="864.5" stroke="#000" stroke-width="1"/>
<line x1="1081" y1="864.5" x2="1087" y2="864.5" stroke="#000" stroke-width="1"/>
<text x="637.00" y="874.00" font-size="24.5">200</text>
<path fill="#f00" d="M710 1401h1v1h-1zM711 1401h1v1h-1zM712 1401h1v1h-1zM713 1401h1v1h-1zM714 1401h1v1h-1zM715 1401h1v1h-1zM716 1401h1v1h-1zM717 1401h1v1h-1zM718 1401h1v1h-1zM719 1401h1v1h-1zM720 1401h1v1h-1zM721 1401h1v1h-1zM722 1401h1v1h-1zM723 1401h1v1h-1zM724 1401h1v1h-1zM725 1401h1v1h-1zM726 1401h1v1h-1zM727 1401h1v1h-1zM728 1401h1v1h-1zM729 1401h1v1h-1zM730 1401h1v1h-1zM731 1401h1v1h-1zM732 1401h1v1h-1zM733 1401h1v1h-1zM734 1401h1v1h-1zM735 1401h1v1h-1zM736 1401h1v1h-1zM737 1401h1v1h-1zM738 1401h1v1h-1zM739 1401h1v1h-1zM740 1401h1v1h-1zM741 1401h1v1h-1zM742 1401h1v1h-1zM743 1401h1v1h-1zM744 1401h1v1h-1zM745 1401h1v1h-1zM746 1401h1v1h-1zM747 1401h1v1h-1zM748 1401h1v1h-1zM749 1401h1v1h-1zM750 1401h1v1h-1zM751 1401h1v1h-1zM752 1401h1v1h-1zM753 1401h1v1h-1zM754 1401h1v1h-1zM801 1401h1v1h-1zM802 1401h1v1h-1zM803 1401h1v1h-1zM804 1401h1v1h-1zM805 1401h1v1h-1zM812 1401h1v1h-1zM813 1401h1v1h-1zM814 1401h1v1h-1zM815 1401h1v1h-1zM903 1388h1v5h-1zM904 1386h1v7h-1zM905 1385h1v11h-1zM906 1383h1v13h-1zM907 1379h1v19h-1zM908 1380h1v18h-1zM909 1376h1v22h-1zM910 1379h1v17h-1zM911 1383h1v13h-1zM912 1383h1v12h-1zM913 1382h1v15h-1zM914 1378h1v19h-1zM915 1383h1v16h-1zM916 1377h1v23h-1zM917 1376h1v20h-1zM955 1379h1v19h-1zM956 1379h1v18h-1zM957 1380h1v17h-1zM958 1383h1v13h-1zM959 1384h1v10h-1zM960 1384h1v10h-1zM961 1385h1v8h-1zM962 1387h1v8h-1z"/><path fill="#00f" d="M710 1375h1v22h-1zM711 1370h1v25h-1zM712 1373h1v22h-1zM713 1373h1v22h-1zM714 1374h1v24h-1zM715 1374h1v22h-1zM716 1368h1v27h-1zM717 1374h1v21h-1zM718 1372h1v24h-1zM719 1374h1v23h-1zM720 1371h1v26h-1zM721 1368h1v27h-1zM722 1369h1v29h-1zM723 1365h1v30h-1zM724 1368h1v28h-1zM725 1371h1v24h-1zM726 1370h1v25h-1zM727 1369h1v27h-1zM728 1371h1v24h-1zM729 1370h1v25h-1zM730 1368h1v28h-1zM731 1372h1v23h-1zM732 1369h1v29h-1zM733 1371h1v24h-1zM734 1373h1v22h-1zM735 1373h1v24h-1zM736 1375h1v21h-1zM737 1368h1v29h-1zM738 1368h1v28h-1zM739 1371h1v26h-1zM740 1369h1v28h-1zM741 1369h1v26h-1zM742 1368h1v30h-1zM743 1375h1v21h-1zM744 1369h1v27h-1zM745 1369h1v29h-1zM746 1373h1v24h-1zM747 1370h1v26h-1zM748 1369h1v28h-1zM749 1370h1v26h-1zM750 1363h1v33h-1zM751 1374h1v21h-1zM752 1373h1v25h-1zM753 1372h1v23h-1zM754 1372h1v23h-1zM754 1372h1v30h-1zM755 1399h1v3h-1zM756 1399h1v3h-1zM757 1397h1v5h-1zM758 1398h1v4h-1zM759 1399h1v3h-1zM760 1394h1v8h-1zM761 1395h1v7h-1zM762 1394h1v8h-1zM763 1395h1v7h-1zM764 1395h1v7h-1zM765 1397h1v5h-1zM766 1396h1v6h-1zM767 1396h1v6h-1zM768 1395h1v7h-1zM769 1393h1v9h-1zM770 1396h1v6h-1zM771 1393h1v9h-1zM772 1395h1v7h-1zM773 1394h1v8h-1zM774 1393h1v9h-1zM775 1395h1v7h-1zM776 1396h1v6h-1zM777 1393h1v9h-1zM778 1393h1v9h-1zM779 1396h1v6h-1zM780 1396h1v6h-1zM781 1393h1v9h-1zM782 1393h1v9h-1zM783 1396h1v6h-1zM784 1393h1v9h-1zM785 1394h1v8h-1zM786 1395h1v7h-1zM787 1394h1v8h-1zM788 1397h1v5h-1zM789 1395h1v7h-1zM790 1396h1v6h-1zM791 1395h1v7h-1zM792 1397h1v5h-1zM793 1399h1v3h-1zM794 1396h1v6h-1zM795 1397h1v5h-1zM796 1397h1v5h-1zM797 1397h1v5h-1zM798 1396h1v6h-1zM799 1396h1v6h-1zM817 1396h1v6h-1zM818 1397h1v5h-1zM819 1396h1v6h-1zM820 1398h1v4h-1zM821 1394h1v8h-1zM822 1396h1v6h-1zM823 1396h1v6h-1zM824 1399h1v3h-1zM825 1397h1v5h-1zM826 1398h1v4h-1zM827 1396h1v6h-1zM828 1398h1v4h-1zM829 1399h1v3h-1zM830 1398h1v4h-1zM831 1393h1v9h-1zM832 1397h1v5h-1zM833 1398h1v4h-1zM834 1398h1v4h-1zM835 1399h1v3h-1zM836 1396h1v6h-1zM837 1399h1v3h-1zM838 1399h1v3h-1zM839 1397h1v5h-1zM840 1396h1v6h-1zM841 1397h1v5h-1zM842 1396h1v6h-1zM843 1398h1v4h-1zM844 1397h1v5h-1zM845 1396h1v6h-1zM846 1399h1v3h-1zM847 1399h1v3h-1zM848 1398h1v4h-1zM849 1399h1v3h-1zM850 1398h1v4h-1zM851 1396h1v6h-1zM852 1396h1v6h-1zM853 1397h1v5h-1zM854 1396h1v6h-1zM855 1396h1v6h-1zM856 1398h1v4h-1zM857 1396h1v6h-1zM858 1399h1v3h-1zM859 1399h1v3h-1zM860 1397h1v5h-1zM861 1398h1v4h-1zM862 1398h1v4h-1zM863 1399h1v3h-1zM864 1397h1v5h-1zM865 1396h1v6h-1zM866 1396h1v6h-1zM867 1399h1v3h-1zM868 1396h1v6h-1zM869 1397h1v5h-1zM870 1399h1v3h-1zM871 1397h1v5h-1zM872 1397h1v5h-1zM873 1398h1v4h-1zM874 1396h1v6h-1zM875 1396h1v6h-1zM876 1396h1v6h-1zM877 1398h1v4h-1zM878 1397h1v5h-1zM879 1397h1v5h-1zM880 1395h1v7h-1zM881 1396h1v6h-1zM882 1398h1v4h-1zM883 1396h1v6h-1zM884 1399h1v3h-1zM885 1399h1v3h-1zM886 1397h1v5h-1zM887 1397h1v5h-1zM888 1396h1v6h-1zM889 1398h1v4h-1zM890 1399h1v3h-1zM891 1397h1v5h-1zM892 1396h1v6h-1zM893 1398h1v4h-1zM894 1393h1v9h-1zM895 1397h1v5h-1zM896 1398h1v4h-1zM897 1397h1v5h-1zM898 1396h1v6h-1zM899 1397h1v5h-1zM900 1396h1v6h-1zM901 1397h1v5h-1zM902 1397h1v5h-1zM903 1399h1v3h-1zM904 1397h1v5h-1zM919 1396h1v6h-1zM920 1399h1v3h-1zM921 1399h1v3h-1zM922 1397h1v5h-1zM923 1396h1v6h-1zM924 1399h1v3h-1zM925 1398h1v4h-1zM926 1398h1v4h-1zM927 1397h1v5h-1zM928 1399h1v3h-1zM929 1396h1v6h-1zM930 1396h1v6h-1zM931 1396h1v6h-1zM932 1398h1v4h-1zM933 1397h1v5h-1zM934 1399h1v3h-1zM935 1398h1v4h-1zM936 1398h1v4h-1zM937 1397h1v5h-1zM938 1396h1v6h-1zM939 1397h1v5h-1zM940 1393h1v9h-1zM941 1399h1v3h-1zM942 1396h1v6h-1zM943 1399h1v3h-1zM944 1393h1v9h-1zM945 1397h1v5h-1zM946 1399h1v3h-1zM947 1397h1v5h-1zM948 1398h1v4h-1zM949 1395h1v7h-1zM950 1398h1v4h-1zM951 1398h1v4h-1zM952 1399h1v3h-1zM953 1393h1v9h-1zM969 1397h1v5h-1zM970 1398h1v4h-1zM971 1396h1v6h-1zM972 1399h1v3h-1zM973 1397h1v5h-1zM974 1396h1v6h-1zM975 1398h1v4h-1zM976 1396h1v6h-1zM977 1396h1v6h-1zM978 1397h1v5h-1zM979 1399h1v3h-1zM980 1396h1v6h-1zM981 1396h1v6h-1zM982 1396h1v6h-1zM983 1396h1v6h-1zM984 1398h1v4h-1zM985 1397h1v5h-1zM986 1396h1v6h-1zM987 1398h1v4h-1zM988 1399h1v3h-1zM989 1397h1v5h-1zM990 1398h1v4h-1zM991 1399h1v3h-1zM992 1398h1v4h-1zM993 1395h1v7h-1zM994 1399h1v3h-1zM995 1396h1v6h-1zM996 1398h1v4h-1zM997 1399h1v3h-1zM998 1397h1v5h-1zM999 1399h1v3h-1zM1000 1399h1v3h-1zM1001 1396h1v6h-1zM1002 1399h1v3h-1zM1003 1396h1v6h-1zM1004 1398h1v4h-1zM1005 1397h1v5h-1zM1006 1398h1v4h-1zM1007 1399h1v3h-1zM1008 1398h1v4h-1zM1009 1397h1v5h-1zM1010 1398h1v4h-1zM1011 1398h1v4h-1zM1012 1396h1v6h-1zM1013 1398h1v4h-1zM1014 1398h1v4h-1zM1015 1398h1v4h-1zM1016 1396h1v6h-1zM1017 1399h1v3h-1zM1018 1399h1v3h-1zM1019 1398h1v4h-1zM1020 1399h1v3h-1zM1021 1397h1v5h-1zM1022 1396h1v6h-1zM1023 1396h1v6h-1zM1024 1395h1v7h-1zM1025 1396h1v6h-1zM1026 1397h1v5h-1zM1027 1396h1v6h-1zM1028 1396h1v6h-1zM1029 1397h1v5h-1zM1030 1398h1v4h-1zM1031 1397h1v5h-1zM1032 1397h1v5h-1zM1033 1397h1v5h-1zM1034 1398h1v4h-1zM1035 1399h1v3h-1zM1036 1398h1v4h-1zM1037 1397h1v5h-1zM1038 1397h1v5h-1zM1039 1399h1v3h-1zM1040 1399h1v3h-1zM1041 1396h1v6h-1zM1042 1399h1v3h-1zM1043 1398h1v4h-1zM1044 1398h1v4h-1zM1045 1397h1v5h-1zM1046 1396h1v6h-1zM1047 1396h1v6h-1zM1048 1399h1v3h-1zM1049 1397h1v5h-1zM1050 1396h1v6h-1zM1051 1398h1v4h-1zM1052 1398h1v4h-1zM1053 1396h1v6h-1zM1054 1397h1v5h-1zM1055 1397h1v5h-1zM1056 1392h1v10h-1zM1057 1397h1v5h-1zM1058 1396h1v6h-1zM1059 1397h1v5h-1zM1060 1399h1v3h-1zM1061 1398h1v4h-1zM1062 1399h1v3h-1zM1063 1397h1v5h-1zM1064 1397h1v5h-1zM1065 1396h1v6h-1zM1066 1398h1v4h-1zM1067 1396h1v6h-1zM1068 1399h1v3h-1zM1069 1397h1v5h-1zM1070 1398h1v4h-1zM1071 1398h1v4h-1zM1072 1398h1v4h-1zM1073 1397h1v5h-1zM1074 1394h1v8h-1zM1075 1396h1v6h-1zM1076 1396h1v6h-1zM1077 1396h1v6h-1zM1078 1397h1v5h-1zM1079 1398h1v4h-1zM1080 1399h1v3h-1zM1081 1397h1v5h-1zM1082 1397h1v5h-1zM1083 1396h1v6h-1zM1084 1396h1v6h-1zM1085 1397h1v5h-1zM800 1388h1v14h-1zM801 1381h1v20h-1zM802 1387h1v14h-1zM803 1389h1v12h-1zM804 1380h1v21h-1zM805 1385h1v16h-1zM806 1389h1v13h-1zM807 1385h1v17h-1zM808 1385h1v17h-1zM809 1387h1v15h-1zM810 1383h1v19h-1zM811 1382h1v20h-1zM812 1388h1v13h-1zM813 1383h1v18h-1zM814 1384h1v17h-1zM815 1387h1v14h-1zM816 1387h1v15h-1zM905 1293h1v109h-1zM906 1252h1v122h-1zM907 1242h1v111h-1zM908 1208h1v143h-1zM909 1176h1v174h-1zM910 1200h1v130h-1zM911 1169h1v165h-1zM912 1196h1v132h-1zM913 1196h1v144h-1zM914 1159h1v182h-1zM915 1114h1v213h-1zM916 1188h1v153h-1zM917 1153h1v197h-1zM918 1208h1v194h-1zM907 1362h1v12h-1zM904 1393h1v9h-1zM954 1284h1v118h-1zM955 1292h1v74h-1zM956 1292h1v74h-1zM957 1300h1v63h-1zM958 1309h1v67h-1zM959 1321h1v63h-1zM960 1337h1v47h-1zM961 1340h1v45h-1zM962 1344h1v43h-1zM963 1355h1v40h-1zM964 1345h1v51h-1zM965 1361h1v36h-1zM966 1368h1v31h-1zM967 1372h1v28h-1zM968 1371h1v30h-1zM963 1345h1v2h-1zM964 1386h1v7h-1z"/>
<line x1="710.5" y1="864" x2="710.5" y2="1403" stroke="#000" stroke-width="1" stroke-dasharray="1 4" stroke-dashoffset="0"/>
<line x1="737.5" y1="864" x2="737.5" y2="1403" stroke="#000" stroke-width="1" stroke-dasharray="1 4" stroke-dashoffset="0"/>
<line x1="764.5" y1="864" x2="764.5" y2="1403" stroke="#000" stroke-width="1" stroke-dasharray="1 4" stroke-dashoffset="0"/>
<line x1="791.5" y1="864" x2="791.5" y2="1403" stroke="#000" stroke-width="1" stroke-dasharray="1 4" stroke-dashoffset="0"/>
<line x1="818.5" y1="864" x2="818.5" y2="1403" stroke="#000" stroke-width="1" stroke-dasharray="1 4" stroke-dashoffset="0"/>
<line x1="844.5" y1="864" x2="844.5" y2="1403" stroke="#000" stroke-width="1" stroke-dasharray="1 4" stroke-dashoffset="0"/>
<line x1="871.5" y1="864" x2="871.5" y2="1403" stroke="#000" stroke-width="1" stroke-dasharray="1 4" stroke-dashoffset="0"/>
<line x1="898.5" y1="864" x2="898.5" y2="1403" stroke="#000" stroke-width="1" stroke-dasharray="1 4" stroke-dashoffset="0"/>
<line x1="925.5" y1="864" x2="925.5" y2="1403" stroke="#000" stroke-width="1" stroke-dasharray="1 4" stroke-dashoffset="0"/>
<line x1="952.5" y1="864" x2="952.5" y2="1403" stroke="#000" stroke-width="1" stroke-dasharray="1 4" stroke-dashoffset="0"/>
<line x1="978.5" y1="864" x2="978.5" y2="1403" stroke="#000" stroke-width="1" stroke-dasharray="1 4" stroke-dashoffset="0"/>
<line x1="1005.5" y1="864" x2="1005.5" y2="1403" stroke="#000" stroke-width="1" stroke-dasharray="1 4" stroke-dashoffset="0"/>
<line x1="1032.5" y1="864" x2="1032.5" y2="1403" stroke="#000" stroke-width="1" stroke-dasharray="1 4" stroke-dashoffset="0"/>
<line x1="1059.5" y1="864" x2="1059.5" y2="1403" stroke="#000" stroke-width="1" stroke-dasharray="1 4" stroke-dashoffset="0"/>
<rect x="684.5" y="864.5" width="402" height="538" fill="none" stroke="#000" stroke-width="1"/>
<text x="677.50" y="844.00" font-size="24.5" textLength="414.51" lengthAdjust="spacing">20120329 111659 Amp red(150MHz)</text>
<text x="619.00" y="1159.50" font-size="24.5" transform="rotate(-90 619.00 1159.50)" textLength="52.64" lengthAdjust="spacing">Amp</text>
<text x="1029.20" y="1433.00" font-size="24.5" textLength="63.00" lengthAdjust="spacing">11:30</text>
<text x="731.00" y="1461.00" font-size="24.5" textLength="306.42" lengthAdjust="spacing">UT, from 11:16 to 11:31 UT</text>
</svg>
</body></html>
